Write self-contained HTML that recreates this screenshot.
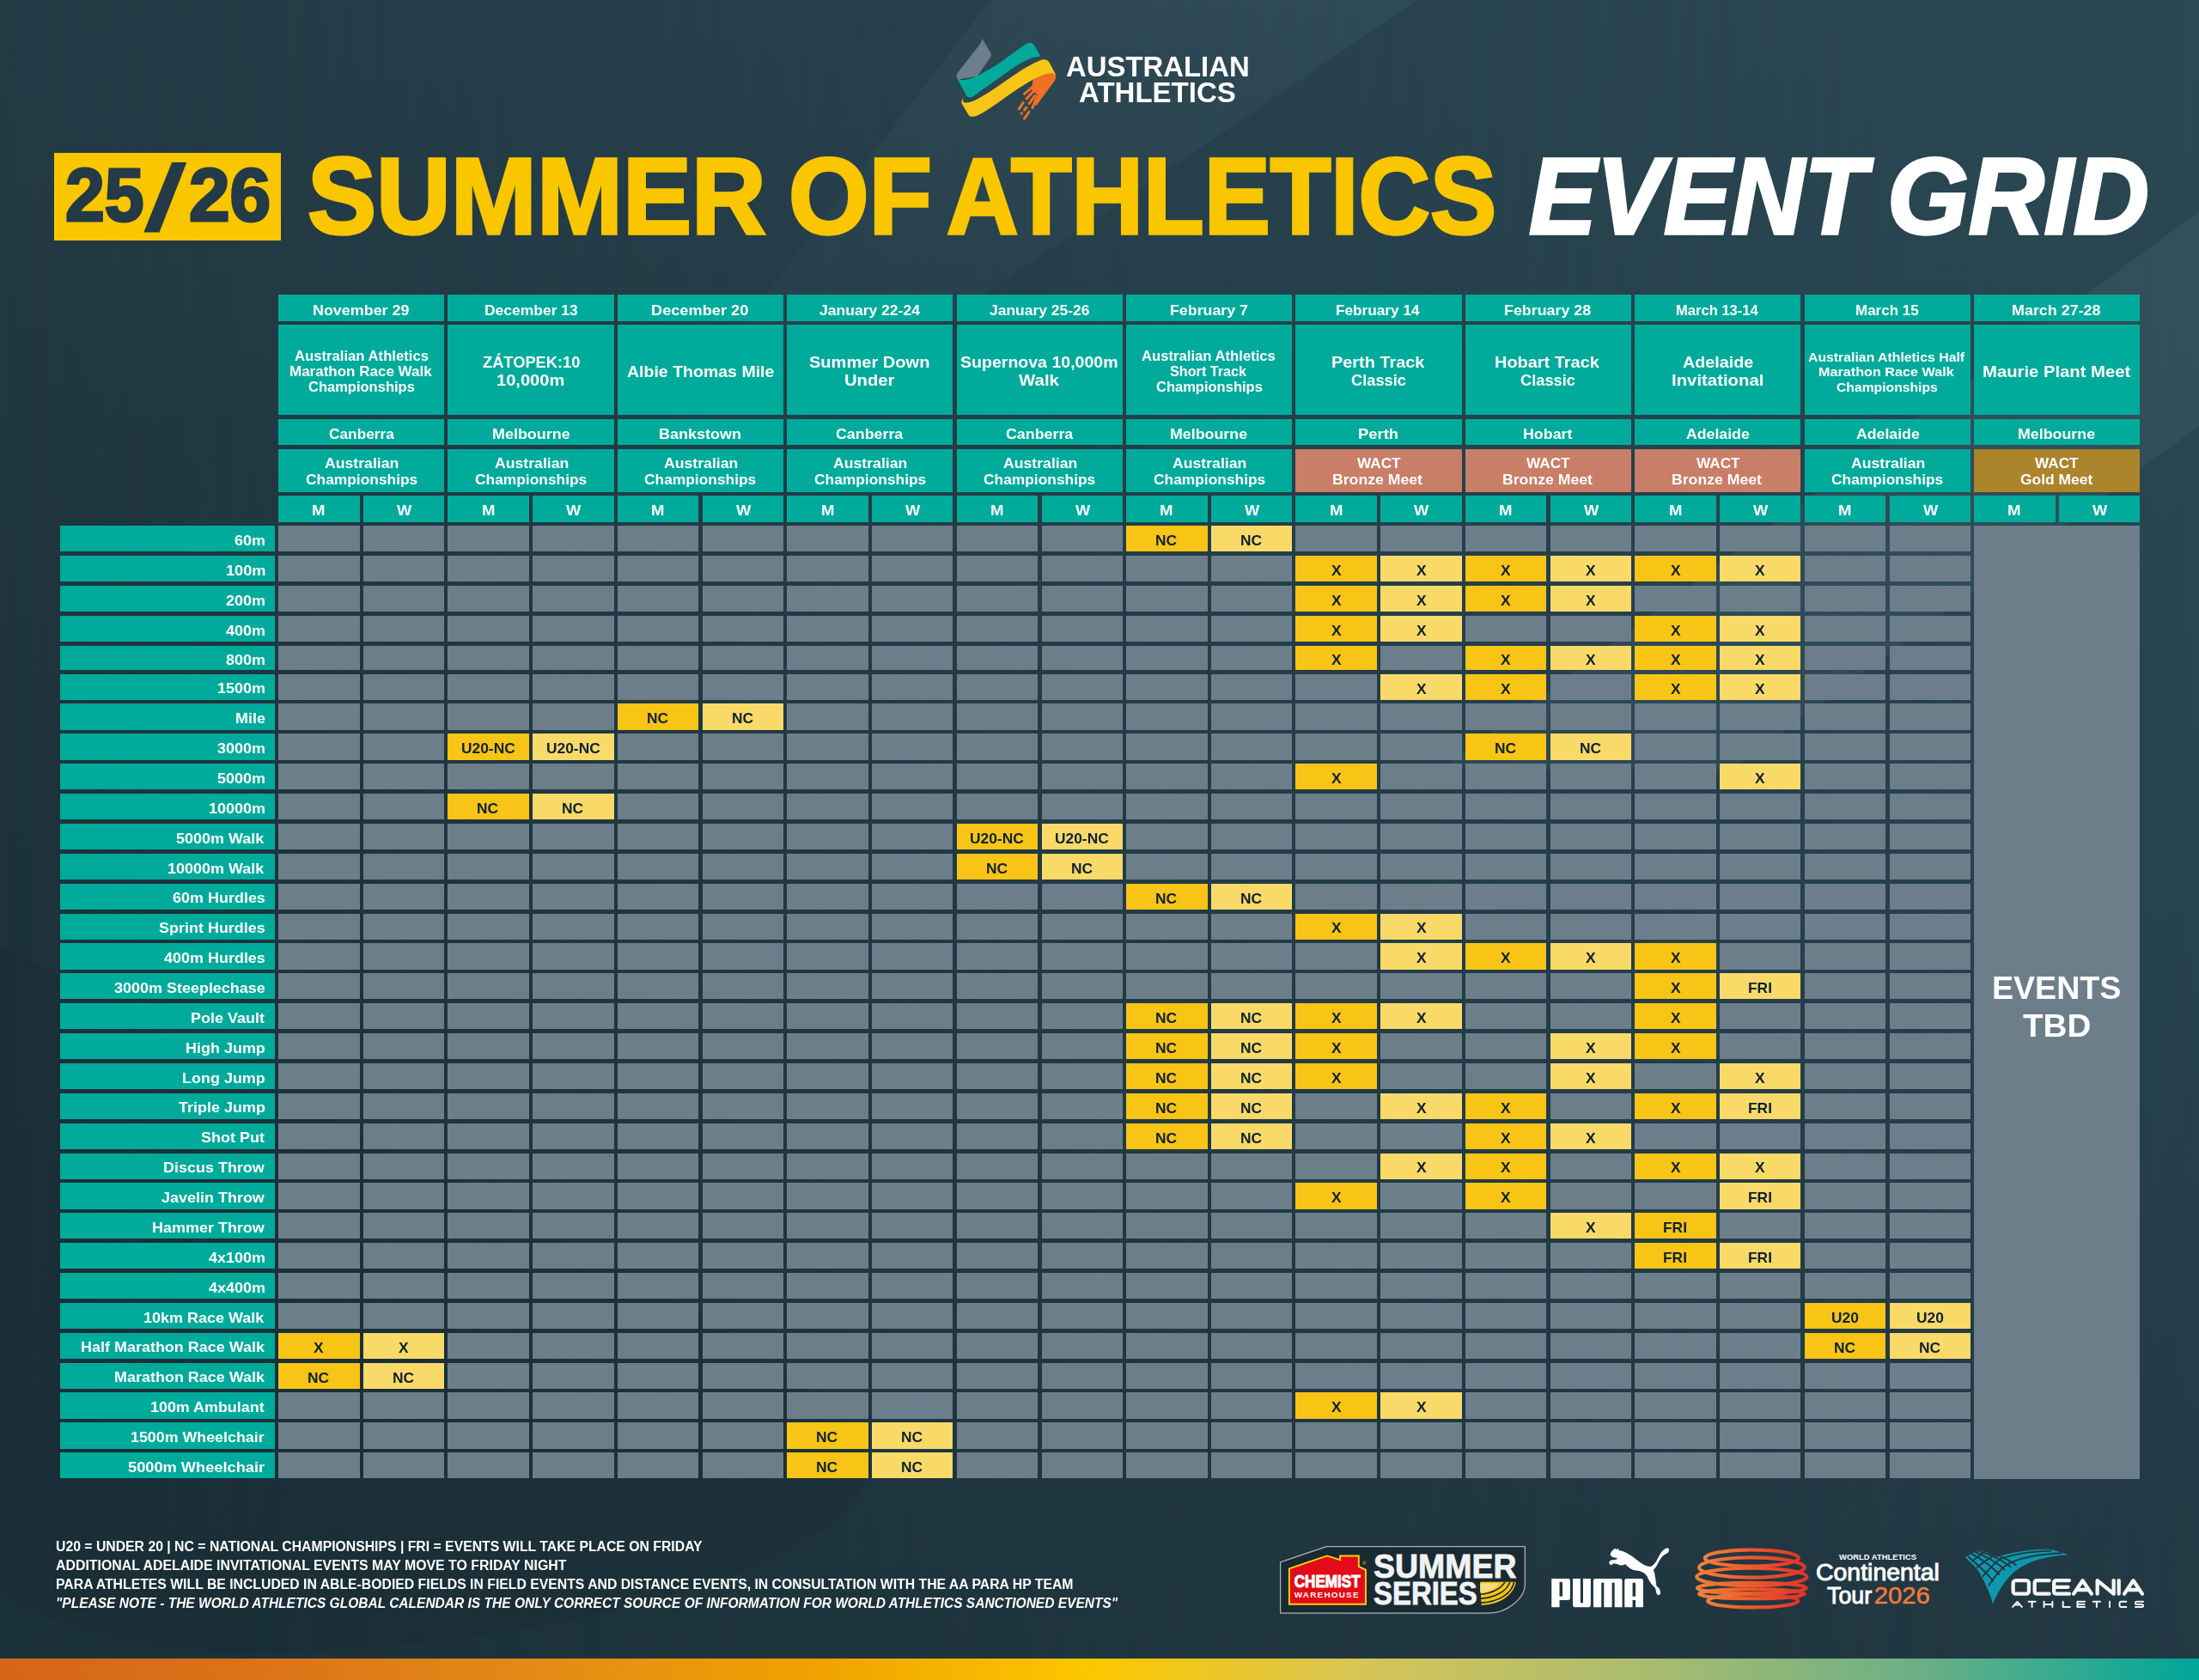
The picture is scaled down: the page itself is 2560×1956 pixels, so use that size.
<!DOCTYPE html>
<html><head><meta charset="utf-8">
<style>
html,body{margin:0;padding:0}
body{width:2560px;height:1956px;overflow:hidden;position:relative;font-family:"Liberation Sans",sans-serif;font-weight:700;color:#fff;background:#22363f}
.bg{position:absolute;left:0;top:0;width:2560px;height:1956px}
.b{position:absolute}
.x{position:absolute;white-space:nowrap;line-height:1;transform-origin:0 0}
.t{position:absolute;white-space:nowrap;line-height:1;transform-origin:0 0}
.foot{position:absolute;left:65px;font-size:16px;line-height:16px;white-space:nowrap;transform-origin:0 0}
</style></head><body>
<svg class="bg" width="2560" height="1956" viewBox="0 0 2560 1956">
 <defs>
  <linearGradient id="gl" x1="0" y1="0" x2="0" y2="1">
   <stop offset="0" stop-color="#243b46"/><stop offset="0.52" stop-color="#1d323a"/><stop offset="1" stop-color="#1b3139"/>
  </linearGradient>
  <linearGradient id="gr" x1="0" y1="0" x2="0" y2="1">
   <stop offset="0" stop-color="#2b4853"/><stop offset="0.52" stop-color="#27444f"/><stop offset="1" stop-color="#223843"/>
  </linearGradient>
  <linearGradient id="hmask" x1="0" y1="0" x2="1" y2="0">
   <stop offset="0" stop-color="#fff" stop-opacity="0"/><stop offset="1" stop-color="#fff" stop-opacity="1"/>
  </linearGradient>
  <mask id="hm"><rect width="2560" height="1956" fill="url(#hmask)"/></mask>
  <linearGradient id="bandfade" x1="0" y1="0" x2="0" y2="1">
   <stop offset="0" stop-color="#9cc6d2" stop-opacity="0.055"/><stop offset="0.6" stop-color="#9cc6d2" stop-opacity="0.02"/><stop offset="1" stop-color="#9cc6d2" stop-opacity="0"/>
  </linearGradient>
  <linearGradient id="bar" x1="0" y1="0" x2="1" y2="0">
   <stop offset="0" stop-color="#d56517"/>
   <stop offset="0.125" stop-color="#dc7418"/>
   <stop offset="0.25" stop-color="#e48c16"/>
   <stop offset="0.375" stop-color="#f0a300"/>
   <stop offset="0.5" stop-color="#fcc800"/>
   <stop offset="0.625" stop-color="#d4c45a"/>
   <stop offset="0.75" stop-color="#a9bc6f"/>
   <stop offset="0.875" stop-color="#6aaf86"/>
   <stop offset="1" stop-color="#00a69a"/>
  </linearGradient>
 </defs>
 <rect width="2560" height="1956" fill="url(#gl)"/>
 <rect width="2560" height="1956" fill="url(#gr)" mask="url(#hm)"/>
 <path d="M1153,0 L1650,0 L614,705 Z" fill="url(#bandfade)"/>
 <path d="M2560,246 L2560,496 L2016,896 L1676,896 Z" fill="#9cc6d2" fill-opacity="0.07"/>
 <path d="M0,1100 C350,1300 950,1550 1010,1700 C1030,1800 700,1925 254,1925 C150,1922 60,1890 0,1854 Z" fill="#000" fill-opacity="0.05"/>
 <rect x="0" y="1931" width="2560" height="25" fill="url(#bar)"/>
</svg>

<!-- logo -->
<svg style="position:absolute;left:1105px;top:40px" width="130" height="105" viewBox="0 0 2080 1680">
 <path d="M615,80 C600,130 590,160 560,200 L170,700 C120,760 130,830 175,840 L520,780 L760,440 C790,400 790,370 770,340 Z" fill="#6d7f8a"/>
 <path d="M150,820 C300,900 500,800 800,620 C1100,430 1300,250 1450,170 C1520,140 1560,160 1590,210 L1700,410 C1550,420 1400,480 1200,620 C900,830 650,1010 450,1150 C390,1190 340,1180 320,1140 Z" fill="#00ab9b"/>
 <path d="M290,1160 C250,1200 240,1260 290,1270 C400,1290 550,1200 800,1040 C1100,840 1400,600 1700,480 C1780,450 1840,470 1870,530 L1990,760 C1800,720 1600,800 1300,1000 C1000,1200 750,1400 550,1500 C450,1550 390,1540 360,1500 L235,1290 C220,1250 250,1190 290,1160 Z" fill="#f8c416"/>
 <path d="M1560,850 C1700,760 1860,700 1950,730 C2000,760 1995,820 1960,870 L1620,1330 L1570,1250 L1650,1130 L1530,1030 Z" fill="#ef7022"/>
 <g stroke="#ef7022" stroke-width="48" stroke-linecap="round" fill="none">
  <path d="M1640,1160 L1550,1370"/><path d="M1600,1140 L1490,1290"/><path d="M1380,1270 L1300,1390"/>
  <path d="M1440,1360 L1400,1410"/><path d="M1490,1440 L1400,1570"/><path d="M1350,1470 L1345,1475"/>
  <path d="M1560,1070 L1440,1200"/><path d="M1540,990 L1400,1110"/>
 </g>
</svg>
<div class="t" style="left:1240.7px;top:60px;font-size:34px;transform:scaleX(0.967)">AUSTRALIAN</div>
<div class="t" style="left:1256.2px;top:90.2px;font-size:34px;transform:scaleX(0.971)">ATHLETICS</div>

<!-- title -->
<div style="position:absolute;left:63px;top:178px;width:264px;height:102px;background:#fac600"></div>
<div class="t" id="w25" style="left:76.19px;top:184.2px;font-size:86.3px;color:#243a46;-webkit-text-stroke:3px #243a46;transform:scaleX(0.9543)">25</div>
<div class="t" id="w26" style="left:219.80px;top:184.2px;font-size:86.3px;color:#243a46;-webkit-text-stroke:3px #243a46;transform:scaleX(0.9917)">26</div>
<svg style="position:absolute;left:0;top:0" width="330" height="290"><path d="M200.1,189.1 L217.3,189.1 L185.5,270.6 L167.3,270.6 Z" fill="#243a46"/></svg>
<div class="t" id="wS" style="left:357.71px;top:164.9px;font-size:127px;color:#fac600;-webkit-text-stroke:3.5px #fac600;transform:scaleX(0.9457)">SUMMER</div>
<div class="t" id="wO" style="left:918.41px;top:164.9px;font-size:127px;color:#fac600;-webkit-text-stroke:3.5px #fac600;transform:scaleX(0.9471)">OF</div>
<div class="t" id="wA" style="left:1101.80px;top:164.9px;font-size:127px;color:#fac600;-webkit-text-stroke:3.5px #fac600;transform:scaleX(0.9103)">ATHLETICS</div>
<div class="t" id="wE" style="left:1780.20px;top:164.9px;font-size:127px;font-style:italic;-webkit-text-stroke:3.5px #fff;transform:scaleX(0.9265)">EVENT</div>
<div class="t" id="wG" style="left:2197.02px;top:164.9px;font-size:127px;font-style:italic;-webkit-text-stroke:3.5px #fff;transform:scaleX(0.9599)">GRID</div>

<div class="b" style="left:324.00px;top:343.30px;width:193.20px;height:30.90px;background:#00ab9b"></div>
<div class="b" style="left:324.00px;top:378.20px;width:193.20px;height:104.40px;background:#00ab9b"></div>
<div class="b" style="left:324.00px;top:488.00px;width:193.20px;height:29.50px;background:#00ab9b"></div>
<div class="b" style="left:324.00px;top:523.00px;width:193.20px;height:49.50px;background:#00ab9b"></div>
<div class="b" style="left:324.00px;top:577.00px;width:94.50px;height:30.50px;background:#00ab9b"></div>
<div class="b" style="left:423.00px;top:577.00px;width:94.20px;height:30.50px;background:#00ab9b"></div>
<div class="b" style="left:521.40px;top:343.30px;width:193.20px;height:30.90px;background:#00ab9b"></div>
<div class="b" style="left:521.40px;top:378.20px;width:193.20px;height:104.40px;background:#00ab9b"></div>
<div class="b" style="left:521.40px;top:488.00px;width:193.20px;height:29.50px;background:#00ab9b"></div>
<div class="b" style="left:521.40px;top:523.00px;width:193.20px;height:49.50px;background:#00ab9b"></div>
<div class="b" style="left:521.40px;top:577.00px;width:94.50px;height:30.50px;background:#00ab9b"></div>
<div class="b" style="left:620.40px;top:577.00px;width:94.20px;height:30.50px;background:#00ab9b"></div>
<div class="b" style="left:718.80px;top:343.30px;width:193.20px;height:30.90px;background:#00ab9b"></div>
<div class="b" style="left:718.80px;top:378.20px;width:193.20px;height:104.40px;background:#00ab9b"></div>
<div class="b" style="left:718.80px;top:488.00px;width:193.20px;height:29.50px;background:#00ab9b"></div>
<div class="b" style="left:718.80px;top:523.00px;width:193.20px;height:49.50px;background:#00ab9b"></div>
<div class="b" style="left:718.80px;top:577.00px;width:94.50px;height:30.50px;background:#00ab9b"></div>
<div class="b" style="left:817.80px;top:577.00px;width:94.20px;height:30.50px;background:#00ab9b"></div>
<div class="b" style="left:916.20px;top:343.30px;width:193.20px;height:30.90px;background:#00ab9b"></div>
<div class="b" style="left:916.20px;top:378.20px;width:193.20px;height:104.40px;background:#00ab9b"></div>
<div class="b" style="left:916.20px;top:488.00px;width:193.20px;height:29.50px;background:#00ab9b"></div>
<div class="b" style="left:916.20px;top:523.00px;width:193.20px;height:49.50px;background:#00ab9b"></div>
<div class="b" style="left:916.20px;top:577.00px;width:94.50px;height:30.50px;background:#00ab9b"></div>
<div class="b" style="left:1015.20px;top:577.00px;width:94.20px;height:30.50px;background:#00ab9b"></div>
<div class="b" style="left:1113.60px;top:343.30px;width:193.20px;height:30.90px;background:#00ab9b"></div>
<div class="b" style="left:1113.60px;top:378.20px;width:193.20px;height:104.40px;background:#00ab9b"></div>
<div class="b" style="left:1113.60px;top:488.00px;width:193.20px;height:29.50px;background:#00ab9b"></div>
<div class="b" style="left:1113.60px;top:523.00px;width:193.20px;height:49.50px;background:#00ab9b"></div>
<div class="b" style="left:1113.60px;top:577.00px;width:94.50px;height:30.50px;background:#00ab9b"></div>
<div class="b" style="left:1212.60px;top:577.00px;width:94.20px;height:30.50px;background:#00ab9b"></div>
<div class="b" style="left:1311.00px;top:343.30px;width:193.20px;height:30.90px;background:#00ab9b"></div>
<div class="b" style="left:1311.00px;top:378.20px;width:193.20px;height:104.40px;background:#00ab9b"></div>
<div class="b" style="left:1311.00px;top:488.00px;width:193.20px;height:29.50px;background:#00ab9b"></div>
<div class="b" style="left:1311.00px;top:523.00px;width:193.20px;height:49.50px;background:#00ab9b"></div>
<div class="b" style="left:1311.00px;top:577.00px;width:94.50px;height:30.50px;background:#00ab9b"></div>
<div class="b" style="left:1410.00px;top:577.00px;width:94.20px;height:30.50px;background:#00ab9b"></div>
<div class="b" style="left:1508.40px;top:343.30px;width:193.20px;height:30.90px;background:#00ab9b"></div>
<div class="b" style="left:1508.40px;top:378.20px;width:193.20px;height:104.40px;background:#00ab9b"></div>
<div class="b" style="left:1508.40px;top:488.00px;width:193.20px;height:29.50px;background:#00ab9b"></div>
<div class="b" style="left:1508.40px;top:523.00px;width:193.20px;height:49.50px;background:#c97e68"></div>
<div class="b" style="left:1508.40px;top:577.00px;width:94.50px;height:30.50px;background:#00ab9b"></div>
<div class="b" style="left:1607.40px;top:577.00px;width:94.20px;height:30.50px;background:#00ab9b"></div>
<div class="b" style="left:1705.80px;top:343.30px;width:193.20px;height:30.90px;background:#00ab9b"></div>
<div class="b" style="left:1705.80px;top:378.20px;width:193.20px;height:104.40px;background:#00ab9b"></div>
<div class="b" style="left:1705.80px;top:488.00px;width:193.20px;height:29.50px;background:#00ab9b"></div>
<div class="b" style="left:1705.80px;top:523.00px;width:193.20px;height:49.50px;background:#c97e68"></div>
<div class="b" style="left:1705.80px;top:577.00px;width:94.50px;height:30.50px;background:#00ab9b"></div>
<div class="b" style="left:1804.80px;top:577.00px;width:94.20px;height:30.50px;background:#00ab9b"></div>
<div class="b" style="left:1903.20px;top:343.30px;width:193.20px;height:30.90px;background:#00ab9b"></div>
<div class="b" style="left:1903.20px;top:378.20px;width:193.20px;height:104.40px;background:#00ab9b"></div>
<div class="b" style="left:1903.20px;top:488.00px;width:193.20px;height:29.50px;background:#00ab9b"></div>
<div class="b" style="left:1903.20px;top:523.00px;width:193.20px;height:49.50px;background:#c97e68"></div>
<div class="b" style="left:1903.20px;top:577.00px;width:94.50px;height:30.50px;background:#00ab9b"></div>
<div class="b" style="left:2002.20px;top:577.00px;width:94.20px;height:30.50px;background:#00ab9b"></div>
<div class="b" style="left:2100.60px;top:343.30px;width:193.20px;height:30.90px;background:#00ab9b"></div>
<div class="b" style="left:2100.60px;top:378.20px;width:193.20px;height:104.40px;background:#00ab9b"></div>
<div class="b" style="left:2100.60px;top:488.00px;width:193.20px;height:29.50px;background:#00ab9b"></div>
<div class="b" style="left:2100.60px;top:523.00px;width:193.20px;height:49.50px;background:#00ab9b"></div>
<div class="b" style="left:2100.60px;top:577.00px;width:94.50px;height:30.50px;background:#00ab9b"></div>
<div class="b" style="left:2199.60px;top:577.00px;width:94.20px;height:30.50px;background:#00ab9b"></div>
<div class="b" style="left:2298.00px;top:343.30px;width:193.20px;height:30.90px;background:#00ab9b"></div>
<div class="b" style="left:2298.00px;top:378.20px;width:193.20px;height:104.40px;background:#00ab9b"></div>
<div class="b" style="left:2298.00px;top:488.00px;width:193.20px;height:29.50px;background:#00ab9b"></div>
<div class="b" style="left:2298.00px;top:523.00px;width:193.20px;height:49.50px;background:#ab842c"></div>
<div class="b" style="left:2298.00px;top:577.00px;width:94.50px;height:30.50px;background:#00ab9b"></div>
<div class="b" style="left:2397.00px;top:577.00px;width:94.20px;height:30.50px;background:#00ab9b"></div>
<div class="b" style="left:69.80px;top:612.00px;width:250.30px;height:30.20px;background:#00ab9b"></div>
<div class="b" style="left:324.00px;top:612.00px;width:94.50px;height:30.20px;background:#6d7e8b"></div>
<div class="b" style="left:423.00px;top:612.00px;width:94.20px;height:30.20px;background:#6d7e8b"></div>
<div class="b" style="left:521.40px;top:612.00px;width:94.50px;height:30.20px;background:#6d7e8b"></div>
<div class="b" style="left:620.40px;top:612.00px;width:94.20px;height:30.20px;background:#6d7e8b"></div>
<div class="b" style="left:718.80px;top:612.00px;width:94.50px;height:30.20px;background:#6d7e8b"></div>
<div class="b" style="left:817.80px;top:612.00px;width:94.20px;height:30.20px;background:#6d7e8b"></div>
<div class="b" style="left:916.20px;top:612.00px;width:94.50px;height:30.20px;background:#6d7e8b"></div>
<div class="b" style="left:1015.20px;top:612.00px;width:94.20px;height:30.20px;background:#6d7e8b"></div>
<div class="b" style="left:1113.60px;top:612.00px;width:94.50px;height:30.20px;background:#6d7e8b"></div>
<div class="b" style="left:1212.60px;top:612.00px;width:94.20px;height:30.20px;background:#6d7e8b"></div>
<div class="b" style="left:1311.00px;top:612.00px;width:94.50px;height:30.20px;background:#f8c416"></div>
<div class="b" style="left:1410.00px;top:612.00px;width:94.20px;height:30.20px;background:#f9da68"></div>
<div class="b" style="left:1508.40px;top:612.00px;width:94.50px;height:30.20px;background:#6d7e8b"></div>
<div class="b" style="left:1607.40px;top:612.00px;width:94.20px;height:30.20px;background:#6d7e8b"></div>
<div class="b" style="left:1705.80px;top:612.00px;width:94.50px;height:30.20px;background:#6d7e8b"></div>
<div class="b" style="left:1804.80px;top:612.00px;width:94.20px;height:30.20px;background:#6d7e8b"></div>
<div class="b" style="left:1903.20px;top:612.00px;width:94.50px;height:30.20px;background:#6d7e8b"></div>
<div class="b" style="left:2002.20px;top:612.00px;width:94.20px;height:30.20px;background:#6d7e8b"></div>
<div class="b" style="left:2100.60px;top:612.00px;width:94.50px;height:30.20px;background:#6d7e8b"></div>
<div class="b" style="left:2199.60px;top:612.00px;width:94.20px;height:30.20px;background:#6d7e8b"></div>
<div class="b" style="left:69.80px;top:647.00px;width:250.30px;height:30.20px;background:#00ab9b"></div>
<div class="b" style="left:324.00px;top:647.00px;width:94.50px;height:30.20px;background:#6d7e8b"></div>
<div class="b" style="left:423.00px;top:647.00px;width:94.20px;height:30.20px;background:#6d7e8b"></div>
<div class="b" style="left:521.40px;top:647.00px;width:94.50px;height:30.20px;background:#6d7e8b"></div>
<div class="b" style="left:620.40px;top:647.00px;width:94.20px;height:30.20px;background:#6d7e8b"></div>
<div class="b" style="left:718.80px;top:647.00px;width:94.50px;height:30.20px;background:#6d7e8b"></div>
<div class="b" style="left:817.80px;top:647.00px;width:94.20px;height:30.20px;background:#6d7e8b"></div>
<div class="b" style="left:916.20px;top:647.00px;width:94.50px;height:30.20px;background:#6d7e8b"></div>
<div class="b" style="left:1015.20px;top:647.00px;width:94.20px;height:30.20px;background:#6d7e8b"></div>
<div class="b" style="left:1113.60px;top:647.00px;width:94.50px;height:30.20px;background:#6d7e8b"></div>
<div class="b" style="left:1212.60px;top:647.00px;width:94.20px;height:30.20px;background:#6d7e8b"></div>
<div class="b" style="left:1311.00px;top:647.00px;width:94.50px;height:30.20px;background:#6d7e8b"></div>
<div class="b" style="left:1410.00px;top:647.00px;width:94.20px;height:30.20px;background:#6d7e8b"></div>
<div class="b" style="left:1508.40px;top:647.00px;width:94.50px;height:30.20px;background:#f8c416"></div>
<div class="b" style="left:1607.40px;top:647.00px;width:94.20px;height:30.20px;background:#f9da68"></div>
<div class="b" style="left:1705.80px;top:647.00px;width:94.50px;height:30.20px;background:#f8c416"></div>
<div class="b" style="left:1804.80px;top:647.00px;width:94.20px;height:30.20px;background:#f9da68"></div>
<div class="b" style="left:1903.20px;top:647.00px;width:94.50px;height:30.20px;background:#f8c416"></div>
<div class="b" style="left:2002.20px;top:647.00px;width:94.20px;height:30.20px;background:#f9da68"></div>
<div class="b" style="left:2100.60px;top:647.00px;width:94.50px;height:30.20px;background:#6d7e8b"></div>
<div class="b" style="left:2199.60px;top:647.00px;width:94.20px;height:30.20px;background:#6d7e8b"></div>
<div class="b" style="left:69.80px;top:682.00px;width:250.30px;height:30.20px;background:#00ab9b"></div>
<div class="b" style="left:324.00px;top:682.00px;width:94.50px;height:30.20px;background:#6d7e8b"></div>
<div class="b" style="left:423.00px;top:682.00px;width:94.20px;height:30.20px;background:#6d7e8b"></div>
<div class="b" style="left:521.40px;top:682.00px;width:94.50px;height:30.20px;background:#6d7e8b"></div>
<div class="b" style="left:620.40px;top:682.00px;width:94.20px;height:30.20px;background:#6d7e8b"></div>
<div class="b" style="left:718.80px;top:682.00px;width:94.50px;height:30.20px;background:#6d7e8b"></div>
<div class="b" style="left:817.80px;top:682.00px;width:94.20px;height:30.20px;background:#6d7e8b"></div>
<div class="b" style="left:916.20px;top:682.00px;width:94.50px;height:30.20px;background:#6d7e8b"></div>
<div class="b" style="left:1015.20px;top:682.00px;width:94.20px;height:30.20px;background:#6d7e8b"></div>
<div class="b" style="left:1113.60px;top:682.00px;width:94.50px;height:30.20px;background:#6d7e8b"></div>
<div class="b" style="left:1212.60px;top:682.00px;width:94.20px;height:30.20px;background:#6d7e8b"></div>
<div class="b" style="left:1311.00px;top:682.00px;width:94.50px;height:30.20px;background:#6d7e8b"></div>
<div class="b" style="left:1410.00px;top:682.00px;width:94.20px;height:30.20px;background:#6d7e8b"></div>
<div class="b" style="left:1508.40px;top:682.00px;width:94.50px;height:30.20px;background:#f8c416"></div>
<div class="b" style="left:1607.40px;top:682.00px;width:94.20px;height:30.20px;background:#f9da68"></div>
<div class="b" style="left:1705.80px;top:682.00px;width:94.50px;height:30.20px;background:#f8c416"></div>
<div class="b" style="left:1804.80px;top:682.00px;width:94.20px;height:30.20px;background:#f9da68"></div>
<div class="b" style="left:1903.20px;top:682.00px;width:94.50px;height:30.20px;background:#6d7e8b"></div>
<div class="b" style="left:2002.20px;top:682.00px;width:94.20px;height:30.20px;background:#6d7e8b"></div>
<div class="b" style="left:2100.60px;top:682.00px;width:94.50px;height:30.20px;background:#6d7e8b"></div>
<div class="b" style="left:2199.60px;top:682.00px;width:94.20px;height:30.20px;background:#6d7e8b"></div>
<div class="b" style="left:69.80px;top:717.00px;width:250.30px;height:30.20px;background:#00ab9b"></div>
<div class="b" style="left:324.00px;top:717.00px;width:94.50px;height:30.20px;background:#6d7e8b"></div>
<div class="b" style="left:423.00px;top:717.00px;width:94.20px;height:30.20px;background:#6d7e8b"></div>
<div class="b" style="left:521.40px;top:717.00px;width:94.50px;height:30.20px;background:#6d7e8b"></div>
<div class="b" style="left:620.40px;top:717.00px;width:94.20px;height:30.20px;background:#6d7e8b"></div>
<div class="b" style="left:718.80px;top:717.00px;width:94.50px;height:30.20px;background:#6d7e8b"></div>
<div class="b" style="left:817.80px;top:717.00px;width:94.20px;height:30.20px;background:#6d7e8b"></div>
<div class="b" style="left:916.20px;top:717.00px;width:94.50px;height:30.20px;background:#6d7e8b"></div>
<div class="b" style="left:1015.20px;top:717.00px;width:94.20px;height:30.20px;background:#6d7e8b"></div>
<div class="b" style="left:1113.60px;top:717.00px;width:94.50px;height:30.20px;background:#6d7e8b"></div>
<div class="b" style="left:1212.60px;top:717.00px;width:94.20px;height:30.20px;background:#6d7e8b"></div>
<div class="b" style="left:1311.00px;top:717.00px;width:94.50px;height:30.20px;background:#6d7e8b"></div>
<div class="b" style="left:1410.00px;top:717.00px;width:94.20px;height:30.20px;background:#6d7e8b"></div>
<div class="b" style="left:1508.40px;top:717.00px;width:94.50px;height:30.20px;background:#f8c416"></div>
<div class="b" style="left:1607.40px;top:717.00px;width:94.20px;height:30.20px;background:#f9da68"></div>
<div class="b" style="left:1705.80px;top:717.00px;width:94.50px;height:30.20px;background:#6d7e8b"></div>
<div class="b" style="left:1804.80px;top:717.00px;width:94.20px;height:30.20px;background:#6d7e8b"></div>
<div class="b" style="left:1903.20px;top:717.00px;width:94.50px;height:30.20px;background:#f8c416"></div>
<div class="b" style="left:2002.20px;top:717.00px;width:94.20px;height:30.20px;background:#f9da68"></div>
<div class="b" style="left:2100.60px;top:717.00px;width:94.50px;height:30.20px;background:#6d7e8b"></div>
<div class="b" style="left:2199.60px;top:717.00px;width:94.20px;height:30.20px;background:#6d7e8b"></div>
<div class="b" style="left:69.80px;top:751.80px;width:250.30px;height:28.60px;background:#00ab9b"></div>
<div class="b" style="left:324.00px;top:751.80px;width:94.50px;height:28.60px;background:#6d7e8b"></div>
<div class="b" style="left:423.00px;top:751.80px;width:94.20px;height:28.60px;background:#6d7e8b"></div>
<div class="b" style="left:521.40px;top:751.80px;width:94.50px;height:28.60px;background:#6d7e8b"></div>
<div class="b" style="left:620.40px;top:751.80px;width:94.20px;height:28.60px;background:#6d7e8b"></div>
<div class="b" style="left:718.80px;top:751.80px;width:94.50px;height:28.60px;background:#6d7e8b"></div>
<div class="b" style="left:817.80px;top:751.80px;width:94.20px;height:28.60px;background:#6d7e8b"></div>
<div class="b" style="left:916.20px;top:751.80px;width:94.50px;height:28.60px;background:#6d7e8b"></div>
<div class="b" style="left:1015.20px;top:751.80px;width:94.20px;height:28.60px;background:#6d7e8b"></div>
<div class="b" style="left:1113.60px;top:751.80px;width:94.50px;height:28.60px;background:#6d7e8b"></div>
<div class="b" style="left:1212.60px;top:751.80px;width:94.20px;height:28.60px;background:#6d7e8b"></div>
<div class="b" style="left:1311.00px;top:751.80px;width:94.50px;height:28.60px;background:#6d7e8b"></div>
<div class="b" style="left:1410.00px;top:751.80px;width:94.20px;height:28.60px;background:#6d7e8b"></div>
<div class="b" style="left:1508.40px;top:751.80px;width:94.50px;height:28.60px;background:#f8c416"></div>
<div class="b" style="left:1607.40px;top:751.80px;width:94.20px;height:28.60px;background:#6d7e8b"></div>
<div class="b" style="left:1705.80px;top:751.80px;width:94.50px;height:28.60px;background:#f8c416"></div>
<div class="b" style="left:1804.80px;top:751.80px;width:94.20px;height:28.60px;background:#f9da68"></div>
<div class="b" style="left:1903.20px;top:751.80px;width:94.50px;height:28.60px;background:#f8c416"></div>
<div class="b" style="left:2002.20px;top:751.80px;width:94.20px;height:28.60px;background:#f9da68"></div>
<div class="b" style="left:2100.60px;top:751.80px;width:94.50px;height:28.60px;background:#6d7e8b"></div>
<div class="b" style="left:2199.60px;top:751.80px;width:94.20px;height:28.60px;background:#6d7e8b"></div>
<div class="b" style="left:69.80px;top:784.60px;width:250.30px;height:30.20px;background:#00ab9b"></div>
<div class="b" style="left:324.00px;top:784.60px;width:94.50px;height:30.20px;background:#6d7e8b"></div>
<div class="b" style="left:423.00px;top:784.60px;width:94.20px;height:30.20px;background:#6d7e8b"></div>
<div class="b" style="left:521.40px;top:784.60px;width:94.50px;height:30.20px;background:#6d7e8b"></div>
<div class="b" style="left:620.40px;top:784.60px;width:94.20px;height:30.20px;background:#6d7e8b"></div>
<div class="b" style="left:718.80px;top:784.60px;width:94.50px;height:30.20px;background:#6d7e8b"></div>
<div class="b" style="left:817.80px;top:784.60px;width:94.20px;height:30.20px;background:#6d7e8b"></div>
<div class="b" style="left:916.20px;top:784.60px;width:94.50px;height:30.20px;background:#6d7e8b"></div>
<div class="b" style="left:1015.20px;top:784.60px;width:94.20px;height:30.20px;background:#6d7e8b"></div>
<div class="b" style="left:1113.60px;top:784.60px;width:94.50px;height:30.20px;background:#6d7e8b"></div>
<div class="b" style="left:1212.60px;top:784.60px;width:94.20px;height:30.20px;background:#6d7e8b"></div>
<div class="b" style="left:1311.00px;top:784.60px;width:94.50px;height:30.20px;background:#6d7e8b"></div>
<div class="b" style="left:1410.00px;top:784.60px;width:94.20px;height:30.20px;background:#6d7e8b"></div>
<div class="b" style="left:1508.40px;top:784.60px;width:94.50px;height:30.20px;background:#6d7e8b"></div>
<div class="b" style="left:1607.40px;top:784.60px;width:94.20px;height:30.20px;background:#f9da68"></div>
<div class="b" style="left:1705.80px;top:784.60px;width:94.50px;height:30.20px;background:#f8c416"></div>
<div class="b" style="left:1804.80px;top:784.60px;width:94.20px;height:30.20px;background:#6d7e8b"></div>
<div class="b" style="left:1903.20px;top:784.60px;width:94.50px;height:30.20px;background:#f8c416"></div>
<div class="b" style="left:2002.20px;top:784.60px;width:94.20px;height:30.20px;background:#f9da68"></div>
<div class="b" style="left:2100.60px;top:784.60px;width:94.50px;height:30.20px;background:#6d7e8b"></div>
<div class="b" style="left:2199.60px;top:784.60px;width:94.20px;height:30.20px;background:#6d7e8b"></div>
<div class="b" style="left:69.80px;top:819.47px;width:250.30px;height:30.20px;background:#00ab9b"></div>
<div class="b" style="left:324.00px;top:819.47px;width:94.50px;height:30.20px;background:#6d7e8b"></div>
<div class="b" style="left:423.00px;top:819.47px;width:94.20px;height:30.20px;background:#6d7e8b"></div>
<div class="b" style="left:521.40px;top:819.47px;width:94.50px;height:30.20px;background:#6d7e8b"></div>
<div class="b" style="left:620.40px;top:819.47px;width:94.20px;height:30.20px;background:#6d7e8b"></div>
<div class="b" style="left:718.80px;top:819.47px;width:94.50px;height:30.20px;background:#f8c416"></div>
<div class="b" style="left:817.80px;top:819.47px;width:94.20px;height:30.20px;background:#f9da68"></div>
<div class="b" style="left:916.20px;top:819.47px;width:94.50px;height:30.20px;background:#6d7e8b"></div>
<div class="b" style="left:1015.20px;top:819.47px;width:94.20px;height:30.20px;background:#6d7e8b"></div>
<div class="b" style="left:1113.60px;top:819.47px;width:94.50px;height:30.20px;background:#6d7e8b"></div>
<div class="b" style="left:1212.60px;top:819.47px;width:94.20px;height:30.20px;background:#6d7e8b"></div>
<div class="b" style="left:1311.00px;top:819.47px;width:94.50px;height:30.20px;background:#6d7e8b"></div>
<div class="b" style="left:1410.00px;top:819.47px;width:94.20px;height:30.20px;background:#6d7e8b"></div>
<div class="b" style="left:1508.40px;top:819.47px;width:94.50px;height:30.20px;background:#6d7e8b"></div>
<div class="b" style="left:1607.40px;top:819.47px;width:94.20px;height:30.20px;background:#6d7e8b"></div>
<div class="b" style="left:1705.80px;top:819.47px;width:94.50px;height:30.20px;background:#6d7e8b"></div>
<div class="b" style="left:1804.80px;top:819.47px;width:94.20px;height:30.20px;background:#6d7e8b"></div>
<div class="b" style="left:1903.20px;top:819.47px;width:94.50px;height:30.20px;background:#6d7e8b"></div>
<div class="b" style="left:2002.20px;top:819.47px;width:94.20px;height:30.20px;background:#6d7e8b"></div>
<div class="b" style="left:2100.60px;top:819.47px;width:94.50px;height:30.20px;background:#6d7e8b"></div>
<div class="b" style="left:2199.60px;top:819.47px;width:94.20px;height:30.20px;background:#6d7e8b"></div>
<div class="b" style="left:69.80px;top:854.34px;width:250.30px;height:30.20px;background:#00ab9b"></div>
<div class="b" style="left:324.00px;top:854.34px;width:94.50px;height:30.20px;background:#6d7e8b"></div>
<div class="b" style="left:423.00px;top:854.34px;width:94.20px;height:30.20px;background:#6d7e8b"></div>
<div class="b" style="left:521.40px;top:854.34px;width:94.50px;height:30.20px;background:#f8c416"></div>
<div class="b" style="left:620.40px;top:854.34px;width:94.20px;height:30.20px;background:#f9da68"></div>
<div class="b" style="left:718.80px;top:854.34px;width:94.50px;height:30.20px;background:#6d7e8b"></div>
<div class="b" style="left:817.80px;top:854.34px;width:94.20px;height:30.20px;background:#6d7e8b"></div>
<div class="b" style="left:916.20px;top:854.34px;width:94.50px;height:30.20px;background:#6d7e8b"></div>
<div class="b" style="left:1015.20px;top:854.34px;width:94.20px;height:30.20px;background:#6d7e8b"></div>
<div class="b" style="left:1113.60px;top:854.34px;width:94.50px;height:30.20px;background:#6d7e8b"></div>
<div class="b" style="left:1212.60px;top:854.34px;width:94.20px;height:30.20px;background:#6d7e8b"></div>
<div class="b" style="left:1311.00px;top:854.34px;width:94.50px;height:30.20px;background:#6d7e8b"></div>
<div class="b" style="left:1410.00px;top:854.34px;width:94.20px;height:30.20px;background:#6d7e8b"></div>
<div class="b" style="left:1508.40px;top:854.34px;width:94.50px;height:30.20px;background:#6d7e8b"></div>
<div class="b" style="left:1607.40px;top:854.34px;width:94.20px;height:30.20px;background:#6d7e8b"></div>
<div class="b" style="left:1705.80px;top:854.34px;width:94.50px;height:30.20px;background:#f8c416"></div>
<div class="b" style="left:1804.80px;top:854.34px;width:94.20px;height:30.20px;background:#f9da68"></div>
<div class="b" style="left:1903.20px;top:854.34px;width:94.50px;height:30.20px;background:#6d7e8b"></div>
<div class="b" style="left:2002.20px;top:854.34px;width:94.20px;height:30.20px;background:#6d7e8b"></div>
<div class="b" style="left:2100.60px;top:854.34px;width:94.50px;height:30.20px;background:#6d7e8b"></div>
<div class="b" style="left:2199.60px;top:854.34px;width:94.20px;height:30.20px;background:#6d7e8b"></div>
<div class="b" style="left:69.80px;top:889.21px;width:250.30px;height:30.20px;background:#00ab9b"></div>
<div class="b" style="left:324.00px;top:889.21px;width:94.50px;height:30.20px;background:#6d7e8b"></div>
<div class="b" style="left:423.00px;top:889.21px;width:94.20px;height:30.20px;background:#6d7e8b"></div>
<div class="b" style="left:521.40px;top:889.21px;width:94.50px;height:30.20px;background:#6d7e8b"></div>
<div class="b" style="left:620.40px;top:889.21px;width:94.20px;height:30.20px;background:#6d7e8b"></div>
<div class="b" style="left:718.80px;top:889.21px;width:94.50px;height:30.20px;background:#6d7e8b"></div>
<div class="b" style="left:817.80px;top:889.21px;width:94.20px;height:30.20px;background:#6d7e8b"></div>
<div class="b" style="left:916.20px;top:889.21px;width:94.50px;height:30.20px;background:#6d7e8b"></div>
<div class="b" style="left:1015.20px;top:889.21px;width:94.20px;height:30.20px;background:#6d7e8b"></div>
<div class="b" style="left:1113.60px;top:889.21px;width:94.50px;height:30.20px;background:#6d7e8b"></div>
<div class="b" style="left:1212.60px;top:889.21px;width:94.20px;height:30.20px;background:#6d7e8b"></div>
<div class="b" style="left:1311.00px;top:889.21px;width:94.50px;height:30.20px;background:#6d7e8b"></div>
<div class="b" style="left:1410.00px;top:889.21px;width:94.20px;height:30.20px;background:#6d7e8b"></div>
<div class="b" style="left:1508.40px;top:889.21px;width:94.50px;height:30.20px;background:#f8c416"></div>
<div class="b" style="left:1607.40px;top:889.21px;width:94.20px;height:30.20px;background:#6d7e8b"></div>
<div class="b" style="left:1705.80px;top:889.21px;width:94.50px;height:30.20px;background:#6d7e8b"></div>
<div class="b" style="left:1804.80px;top:889.21px;width:94.20px;height:30.20px;background:#6d7e8b"></div>
<div class="b" style="left:1903.20px;top:889.21px;width:94.50px;height:30.20px;background:#6d7e8b"></div>
<div class="b" style="left:2002.20px;top:889.21px;width:94.20px;height:30.20px;background:#f9da68"></div>
<div class="b" style="left:2100.60px;top:889.21px;width:94.50px;height:30.20px;background:#6d7e8b"></div>
<div class="b" style="left:2199.60px;top:889.21px;width:94.20px;height:30.20px;background:#6d7e8b"></div>
<div class="b" style="left:69.80px;top:924.08px;width:250.30px;height:30.20px;background:#00ab9b"></div>
<div class="b" style="left:324.00px;top:924.08px;width:94.50px;height:30.20px;background:#6d7e8b"></div>
<div class="b" style="left:423.00px;top:924.08px;width:94.20px;height:30.20px;background:#6d7e8b"></div>
<div class="b" style="left:521.40px;top:924.08px;width:94.50px;height:30.20px;background:#f8c416"></div>
<div class="b" style="left:620.40px;top:924.08px;width:94.20px;height:30.20px;background:#f9da68"></div>
<div class="b" style="left:718.80px;top:924.08px;width:94.50px;height:30.20px;background:#6d7e8b"></div>
<div class="b" style="left:817.80px;top:924.08px;width:94.20px;height:30.20px;background:#6d7e8b"></div>
<div class="b" style="left:916.20px;top:924.08px;width:94.50px;height:30.20px;background:#6d7e8b"></div>
<div class="b" style="left:1015.20px;top:924.08px;width:94.20px;height:30.20px;background:#6d7e8b"></div>
<div class="b" style="left:1113.60px;top:924.08px;width:94.50px;height:30.20px;background:#6d7e8b"></div>
<div class="b" style="left:1212.60px;top:924.08px;width:94.20px;height:30.20px;background:#6d7e8b"></div>
<div class="b" style="left:1311.00px;top:924.08px;width:94.50px;height:30.20px;background:#6d7e8b"></div>
<div class="b" style="left:1410.00px;top:924.08px;width:94.20px;height:30.20px;background:#6d7e8b"></div>
<div class="b" style="left:1508.40px;top:924.08px;width:94.50px;height:30.20px;background:#6d7e8b"></div>
<div class="b" style="left:1607.40px;top:924.08px;width:94.20px;height:30.20px;background:#6d7e8b"></div>
<div class="b" style="left:1705.80px;top:924.08px;width:94.50px;height:30.20px;background:#6d7e8b"></div>
<div class="b" style="left:1804.80px;top:924.08px;width:94.20px;height:30.20px;background:#6d7e8b"></div>
<div class="b" style="left:1903.20px;top:924.08px;width:94.50px;height:30.20px;background:#6d7e8b"></div>
<div class="b" style="left:2002.20px;top:924.08px;width:94.20px;height:30.20px;background:#6d7e8b"></div>
<div class="b" style="left:2100.60px;top:924.08px;width:94.50px;height:30.20px;background:#6d7e8b"></div>
<div class="b" style="left:2199.60px;top:924.08px;width:94.20px;height:30.20px;background:#6d7e8b"></div>
<div class="b" style="left:69.80px;top:958.95px;width:250.30px;height:30.20px;background:#00ab9b"></div>
<div class="b" style="left:324.00px;top:958.95px;width:94.50px;height:30.20px;background:#6d7e8b"></div>
<div class="b" style="left:423.00px;top:958.95px;width:94.20px;height:30.20px;background:#6d7e8b"></div>
<div class="b" style="left:521.40px;top:958.95px;width:94.50px;height:30.20px;background:#6d7e8b"></div>
<div class="b" style="left:620.40px;top:958.95px;width:94.20px;height:30.20px;background:#6d7e8b"></div>
<div class="b" style="left:718.80px;top:958.95px;width:94.50px;height:30.20px;background:#6d7e8b"></div>
<div class="b" style="left:817.80px;top:958.95px;width:94.20px;height:30.20px;background:#6d7e8b"></div>
<div class="b" style="left:916.20px;top:958.95px;width:94.50px;height:30.20px;background:#6d7e8b"></div>
<div class="b" style="left:1015.20px;top:958.95px;width:94.20px;height:30.20px;background:#6d7e8b"></div>
<div class="b" style="left:1113.60px;top:958.95px;width:94.50px;height:30.20px;background:#f8c416"></div>
<div class="b" style="left:1212.60px;top:958.95px;width:94.20px;height:30.20px;background:#f9da68"></div>
<div class="b" style="left:1311.00px;top:958.95px;width:94.50px;height:30.20px;background:#6d7e8b"></div>
<div class="b" style="left:1410.00px;top:958.95px;width:94.20px;height:30.20px;background:#6d7e8b"></div>
<div class="b" style="left:1508.40px;top:958.95px;width:94.50px;height:30.20px;background:#6d7e8b"></div>
<div class="b" style="left:1607.40px;top:958.95px;width:94.20px;height:30.20px;background:#6d7e8b"></div>
<div class="b" style="left:1705.80px;top:958.95px;width:94.50px;height:30.20px;background:#6d7e8b"></div>
<div class="b" style="left:1804.80px;top:958.95px;width:94.20px;height:30.20px;background:#6d7e8b"></div>
<div class="b" style="left:1903.20px;top:958.95px;width:94.50px;height:30.20px;background:#6d7e8b"></div>
<div class="b" style="left:2002.20px;top:958.95px;width:94.20px;height:30.20px;background:#6d7e8b"></div>
<div class="b" style="left:2100.60px;top:958.95px;width:94.50px;height:30.20px;background:#6d7e8b"></div>
<div class="b" style="left:2199.60px;top:958.95px;width:94.20px;height:30.20px;background:#6d7e8b"></div>
<div class="b" style="left:69.80px;top:993.82px;width:250.30px;height:30.20px;background:#00ab9b"></div>
<div class="b" style="left:324.00px;top:993.82px;width:94.50px;height:30.20px;background:#6d7e8b"></div>
<div class="b" style="left:423.00px;top:993.82px;width:94.20px;height:30.20px;background:#6d7e8b"></div>
<div class="b" style="left:521.40px;top:993.82px;width:94.50px;height:30.20px;background:#6d7e8b"></div>
<div class="b" style="left:620.40px;top:993.82px;width:94.20px;height:30.20px;background:#6d7e8b"></div>
<div class="b" style="left:718.80px;top:993.82px;width:94.50px;height:30.20px;background:#6d7e8b"></div>
<div class="b" style="left:817.80px;top:993.82px;width:94.20px;height:30.20px;background:#6d7e8b"></div>
<div class="b" style="left:916.20px;top:993.82px;width:94.50px;height:30.20px;background:#6d7e8b"></div>
<div class="b" style="left:1015.20px;top:993.82px;width:94.20px;height:30.20px;background:#6d7e8b"></div>
<div class="b" style="left:1113.60px;top:993.82px;width:94.50px;height:30.20px;background:#f8c416"></div>
<div class="b" style="left:1212.60px;top:993.82px;width:94.20px;height:30.20px;background:#f9da68"></div>
<div class="b" style="left:1311.00px;top:993.82px;width:94.50px;height:30.20px;background:#6d7e8b"></div>
<div class="b" style="left:1410.00px;top:993.82px;width:94.20px;height:30.20px;background:#6d7e8b"></div>
<div class="b" style="left:1508.40px;top:993.82px;width:94.50px;height:30.20px;background:#6d7e8b"></div>
<div class="b" style="left:1607.40px;top:993.82px;width:94.20px;height:30.20px;background:#6d7e8b"></div>
<div class="b" style="left:1705.80px;top:993.82px;width:94.50px;height:30.20px;background:#6d7e8b"></div>
<div class="b" style="left:1804.80px;top:993.82px;width:94.20px;height:30.20px;background:#6d7e8b"></div>
<div class="b" style="left:1903.20px;top:993.82px;width:94.50px;height:30.20px;background:#6d7e8b"></div>
<div class="b" style="left:2002.20px;top:993.82px;width:94.20px;height:30.20px;background:#6d7e8b"></div>
<div class="b" style="left:2100.60px;top:993.82px;width:94.50px;height:30.20px;background:#6d7e8b"></div>
<div class="b" style="left:2199.60px;top:993.82px;width:94.20px;height:30.20px;background:#6d7e8b"></div>
<div class="b" style="left:69.80px;top:1028.69px;width:250.30px;height:30.20px;background:#00ab9b"></div>
<div class="b" style="left:324.00px;top:1028.69px;width:94.50px;height:30.20px;background:#6d7e8b"></div>
<div class="b" style="left:423.00px;top:1028.69px;width:94.20px;height:30.20px;background:#6d7e8b"></div>
<div class="b" style="left:521.40px;top:1028.69px;width:94.50px;height:30.20px;background:#6d7e8b"></div>
<div class="b" style="left:620.40px;top:1028.69px;width:94.20px;height:30.20px;background:#6d7e8b"></div>
<div class="b" style="left:718.80px;top:1028.69px;width:94.50px;height:30.20px;background:#6d7e8b"></div>
<div class="b" style="left:817.80px;top:1028.69px;width:94.20px;height:30.20px;background:#6d7e8b"></div>
<div class="b" style="left:916.20px;top:1028.69px;width:94.50px;height:30.20px;background:#6d7e8b"></div>
<div class="b" style="left:1015.20px;top:1028.69px;width:94.20px;height:30.20px;background:#6d7e8b"></div>
<div class="b" style="left:1113.60px;top:1028.69px;width:94.50px;height:30.20px;background:#6d7e8b"></div>
<div class="b" style="left:1212.60px;top:1028.69px;width:94.20px;height:30.20px;background:#6d7e8b"></div>
<div class="b" style="left:1311.00px;top:1028.69px;width:94.50px;height:30.20px;background:#f8c416"></div>
<div class="b" style="left:1410.00px;top:1028.69px;width:94.20px;height:30.20px;background:#f9da68"></div>
<div class="b" style="left:1508.40px;top:1028.69px;width:94.50px;height:30.20px;background:#6d7e8b"></div>
<div class="b" style="left:1607.40px;top:1028.69px;width:94.20px;height:30.20px;background:#6d7e8b"></div>
<div class="b" style="left:1705.80px;top:1028.69px;width:94.50px;height:30.20px;background:#6d7e8b"></div>
<div class="b" style="left:1804.80px;top:1028.69px;width:94.20px;height:30.20px;background:#6d7e8b"></div>
<div class="b" style="left:1903.20px;top:1028.69px;width:94.50px;height:30.20px;background:#6d7e8b"></div>
<div class="b" style="left:2002.20px;top:1028.69px;width:94.20px;height:30.20px;background:#6d7e8b"></div>
<div class="b" style="left:2100.60px;top:1028.69px;width:94.50px;height:30.20px;background:#6d7e8b"></div>
<div class="b" style="left:2199.60px;top:1028.69px;width:94.20px;height:30.20px;background:#6d7e8b"></div>
<div class="b" style="left:69.80px;top:1063.56px;width:250.30px;height:30.20px;background:#00ab9b"></div>
<div class="b" style="left:324.00px;top:1063.56px;width:94.50px;height:30.20px;background:#6d7e8b"></div>
<div class="b" style="left:423.00px;top:1063.56px;width:94.20px;height:30.20px;background:#6d7e8b"></div>
<div class="b" style="left:521.40px;top:1063.56px;width:94.50px;height:30.20px;background:#6d7e8b"></div>
<div class="b" style="left:620.40px;top:1063.56px;width:94.20px;height:30.20px;background:#6d7e8b"></div>
<div class="b" style="left:718.80px;top:1063.56px;width:94.50px;height:30.20px;background:#6d7e8b"></div>
<div class="b" style="left:817.80px;top:1063.56px;width:94.20px;height:30.20px;background:#6d7e8b"></div>
<div class="b" style="left:916.20px;top:1063.56px;width:94.50px;height:30.20px;background:#6d7e8b"></div>
<div class="b" style="left:1015.20px;top:1063.56px;width:94.20px;height:30.20px;background:#6d7e8b"></div>
<div class="b" style="left:1113.60px;top:1063.56px;width:94.50px;height:30.20px;background:#6d7e8b"></div>
<div class="b" style="left:1212.60px;top:1063.56px;width:94.20px;height:30.20px;background:#6d7e8b"></div>
<div class="b" style="left:1311.00px;top:1063.56px;width:94.50px;height:30.20px;background:#6d7e8b"></div>
<div class="b" style="left:1410.00px;top:1063.56px;width:94.20px;height:30.20px;background:#6d7e8b"></div>
<div class="b" style="left:1508.40px;top:1063.56px;width:94.50px;height:30.20px;background:#f8c416"></div>
<div class="b" style="left:1607.40px;top:1063.56px;width:94.20px;height:30.20px;background:#f9da68"></div>
<div class="b" style="left:1705.80px;top:1063.56px;width:94.50px;height:30.20px;background:#6d7e8b"></div>
<div class="b" style="left:1804.80px;top:1063.56px;width:94.20px;height:30.20px;background:#6d7e8b"></div>
<div class="b" style="left:1903.20px;top:1063.56px;width:94.50px;height:30.20px;background:#6d7e8b"></div>
<div class="b" style="left:2002.20px;top:1063.56px;width:94.20px;height:30.20px;background:#6d7e8b"></div>
<div class="b" style="left:2100.60px;top:1063.56px;width:94.50px;height:30.20px;background:#6d7e8b"></div>
<div class="b" style="left:2199.60px;top:1063.56px;width:94.20px;height:30.20px;background:#6d7e8b"></div>
<div class="b" style="left:69.80px;top:1098.43px;width:250.30px;height:30.20px;background:#00ab9b"></div>
<div class="b" style="left:324.00px;top:1098.43px;width:94.50px;height:30.20px;background:#6d7e8b"></div>
<div class="b" style="left:423.00px;top:1098.43px;width:94.20px;height:30.20px;background:#6d7e8b"></div>
<div class="b" style="left:521.40px;top:1098.43px;width:94.50px;height:30.20px;background:#6d7e8b"></div>
<div class="b" style="left:620.40px;top:1098.43px;width:94.20px;height:30.20px;background:#6d7e8b"></div>
<div class="b" style="left:718.80px;top:1098.43px;width:94.50px;height:30.20px;background:#6d7e8b"></div>
<div class="b" style="left:817.80px;top:1098.43px;width:94.20px;height:30.20px;background:#6d7e8b"></div>
<div class="b" style="left:916.20px;top:1098.43px;width:94.50px;height:30.20px;background:#6d7e8b"></div>
<div class="b" style="left:1015.20px;top:1098.43px;width:94.20px;height:30.20px;background:#6d7e8b"></div>
<div class="b" style="left:1113.60px;top:1098.43px;width:94.50px;height:30.20px;background:#6d7e8b"></div>
<div class="b" style="left:1212.60px;top:1098.43px;width:94.20px;height:30.20px;background:#6d7e8b"></div>
<div class="b" style="left:1311.00px;top:1098.43px;width:94.50px;height:30.20px;background:#6d7e8b"></div>
<div class="b" style="left:1410.00px;top:1098.43px;width:94.20px;height:30.20px;background:#6d7e8b"></div>
<div class="b" style="left:1508.40px;top:1098.43px;width:94.50px;height:30.20px;background:#6d7e8b"></div>
<div class="b" style="left:1607.40px;top:1098.43px;width:94.20px;height:30.20px;background:#f9da68"></div>
<div class="b" style="left:1705.80px;top:1098.43px;width:94.50px;height:30.20px;background:#f8c416"></div>
<div class="b" style="left:1804.80px;top:1098.43px;width:94.20px;height:30.20px;background:#f9da68"></div>
<div class="b" style="left:1903.20px;top:1098.43px;width:94.50px;height:30.20px;background:#f8c416"></div>
<div class="b" style="left:2002.20px;top:1098.43px;width:94.20px;height:30.20px;background:#6d7e8b"></div>
<div class="b" style="left:2100.60px;top:1098.43px;width:94.50px;height:30.20px;background:#6d7e8b"></div>
<div class="b" style="left:2199.60px;top:1098.43px;width:94.20px;height:30.20px;background:#6d7e8b"></div>
<div class="b" style="left:69.80px;top:1133.30px;width:250.30px;height:30.20px;background:#00ab9b"></div>
<div class="b" style="left:324.00px;top:1133.30px;width:94.50px;height:30.20px;background:#6d7e8b"></div>
<div class="b" style="left:423.00px;top:1133.30px;width:94.20px;height:30.20px;background:#6d7e8b"></div>
<div class="b" style="left:521.40px;top:1133.30px;width:94.50px;height:30.20px;background:#6d7e8b"></div>
<div class="b" style="left:620.40px;top:1133.30px;width:94.20px;height:30.20px;background:#6d7e8b"></div>
<div class="b" style="left:718.80px;top:1133.30px;width:94.50px;height:30.20px;background:#6d7e8b"></div>
<div class="b" style="left:817.80px;top:1133.30px;width:94.20px;height:30.20px;background:#6d7e8b"></div>
<div class="b" style="left:916.20px;top:1133.30px;width:94.50px;height:30.20px;background:#6d7e8b"></div>
<div class="b" style="left:1015.20px;top:1133.30px;width:94.20px;height:30.20px;background:#6d7e8b"></div>
<div class="b" style="left:1113.60px;top:1133.30px;width:94.50px;height:30.20px;background:#6d7e8b"></div>
<div class="b" style="left:1212.60px;top:1133.30px;width:94.20px;height:30.20px;background:#6d7e8b"></div>
<div class="b" style="left:1311.00px;top:1133.30px;width:94.50px;height:30.20px;background:#6d7e8b"></div>
<div class="b" style="left:1410.00px;top:1133.30px;width:94.20px;height:30.20px;background:#6d7e8b"></div>
<div class="b" style="left:1508.40px;top:1133.30px;width:94.50px;height:30.20px;background:#6d7e8b"></div>
<div class="b" style="left:1607.40px;top:1133.30px;width:94.20px;height:30.20px;background:#6d7e8b"></div>
<div class="b" style="left:1705.80px;top:1133.30px;width:94.50px;height:30.20px;background:#6d7e8b"></div>
<div class="b" style="left:1804.80px;top:1133.30px;width:94.20px;height:30.20px;background:#6d7e8b"></div>
<div class="b" style="left:1903.20px;top:1133.30px;width:94.50px;height:30.20px;background:#f8c416"></div>
<div class="b" style="left:2002.20px;top:1133.30px;width:94.20px;height:30.20px;background:#f9da68"></div>
<div class="b" style="left:2100.60px;top:1133.30px;width:94.50px;height:30.20px;background:#6d7e8b"></div>
<div class="b" style="left:2199.60px;top:1133.30px;width:94.20px;height:30.20px;background:#6d7e8b"></div>
<div class="b" style="left:69.80px;top:1168.17px;width:250.30px;height:30.20px;background:#00ab9b"></div>
<div class="b" style="left:324.00px;top:1168.17px;width:94.50px;height:30.20px;background:#6d7e8b"></div>
<div class="b" style="left:423.00px;top:1168.17px;width:94.20px;height:30.20px;background:#6d7e8b"></div>
<div class="b" style="left:521.40px;top:1168.17px;width:94.50px;height:30.20px;background:#6d7e8b"></div>
<div class="b" style="left:620.40px;top:1168.17px;width:94.20px;height:30.20px;background:#6d7e8b"></div>
<div class="b" style="left:718.80px;top:1168.17px;width:94.50px;height:30.20px;background:#6d7e8b"></div>
<div class="b" style="left:817.80px;top:1168.17px;width:94.20px;height:30.20px;background:#6d7e8b"></div>
<div class="b" style="left:916.20px;top:1168.17px;width:94.50px;height:30.20px;background:#6d7e8b"></div>
<div class="b" style="left:1015.20px;top:1168.17px;width:94.20px;height:30.20px;background:#6d7e8b"></div>
<div class="b" style="left:1113.60px;top:1168.17px;width:94.50px;height:30.20px;background:#6d7e8b"></div>
<div class="b" style="left:1212.60px;top:1168.17px;width:94.20px;height:30.20px;background:#6d7e8b"></div>
<div class="b" style="left:1311.00px;top:1168.17px;width:94.50px;height:30.20px;background:#f8c416"></div>
<div class="b" style="left:1410.00px;top:1168.17px;width:94.20px;height:30.20px;background:#f9da68"></div>
<div class="b" style="left:1508.40px;top:1168.17px;width:94.50px;height:30.20px;background:#f8c416"></div>
<div class="b" style="left:1607.40px;top:1168.17px;width:94.20px;height:30.20px;background:#f9da68"></div>
<div class="b" style="left:1705.80px;top:1168.17px;width:94.50px;height:30.20px;background:#6d7e8b"></div>
<div class="b" style="left:1804.80px;top:1168.17px;width:94.20px;height:30.20px;background:#6d7e8b"></div>
<div class="b" style="left:1903.20px;top:1168.17px;width:94.50px;height:30.20px;background:#f8c416"></div>
<div class="b" style="left:2002.20px;top:1168.17px;width:94.20px;height:30.20px;background:#6d7e8b"></div>
<div class="b" style="left:2100.60px;top:1168.17px;width:94.50px;height:30.20px;background:#6d7e8b"></div>
<div class="b" style="left:2199.60px;top:1168.17px;width:94.20px;height:30.20px;background:#6d7e8b"></div>
<div class="b" style="left:69.80px;top:1203.04px;width:250.30px;height:30.20px;background:#00ab9b"></div>
<div class="b" style="left:324.00px;top:1203.04px;width:94.50px;height:30.20px;background:#6d7e8b"></div>
<div class="b" style="left:423.00px;top:1203.04px;width:94.20px;height:30.20px;background:#6d7e8b"></div>
<div class="b" style="left:521.40px;top:1203.04px;width:94.50px;height:30.20px;background:#6d7e8b"></div>
<div class="b" style="left:620.40px;top:1203.04px;width:94.20px;height:30.20px;background:#6d7e8b"></div>
<div class="b" style="left:718.80px;top:1203.04px;width:94.50px;height:30.20px;background:#6d7e8b"></div>
<div class="b" style="left:817.80px;top:1203.04px;width:94.20px;height:30.20px;background:#6d7e8b"></div>
<div class="b" style="left:916.20px;top:1203.04px;width:94.50px;height:30.20px;background:#6d7e8b"></div>
<div class="b" style="left:1015.20px;top:1203.04px;width:94.20px;height:30.20px;background:#6d7e8b"></div>
<div class="b" style="left:1113.60px;top:1203.04px;width:94.50px;height:30.20px;background:#6d7e8b"></div>
<div class="b" style="left:1212.60px;top:1203.04px;width:94.20px;height:30.20px;background:#6d7e8b"></div>
<div class="b" style="left:1311.00px;top:1203.04px;width:94.50px;height:30.20px;background:#f8c416"></div>
<div class="b" style="left:1410.00px;top:1203.04px;width:94.20px;height:30.20px;background:#f9da68"></div>
<div class="b" style="left:1508.40px;top:1203.04px;width:94.50px;height:30.20px;background:#f8c416"></div>
<div class="b" style="left:1607.40px;top:1203.04px;width:94.20px;height:30.20px;background:#6d7e8b"></div>
<div class="b" style="left:1705.80px;top:1203.04px;width:94.50px;height:30.20px;background:#6d7e8b"></div>
<div class="b" style="left:1804.80px;top:1203.04px;width:94.20px;height:30.20px;background:#f9da68"></div>
<div class="b" style="left:1903.20px;top:1203.04px;width:94.50px;height:30.20px;background:#f8c416"></div>
<div class="b" style="left:2002.20px;top:1203.04px;width:94.20px;height:30.20px;background:#6d7e8b"></div>
<div class="b" style="left:2100.60px;top:1203.04px;width:94.50px;height:30.20px;background:#6d7e8b"></div>
<div class="b" style="left:2199.60px;top:1203.04px;width:94.20px;height:30.20px;background:#6d7e8b"></div>
<div class="b" style="left:69.80px;top:1237.91px;width:250.30px;height:30.20px;background:#00ab9b"></div>
<div class="b" style="left:324.00px;top:1237.91px;width:94.50px;height:30.20px;background:#6d7e8b"></div>
<div class="b" style="left:423.00px;top:1237.91px;width:94.20px;height:30.20px;background:#6d7e8b"></div>
<div class="b" style="left:521.40px;top:1237.91px;width:94.50px;height:30.20px;background:#6d7e8b"></div>
<div class="b" style="left:620.40px;top:1237.91px;width:94.20px;height:30.20px;background:#6d7e8b"></div>
<div class="b" style="left:718.80px;top:1237.91px;width:94.50px;height:30.20px;background:#6d7e8b"></div>
<div class="b" style="left:817.80px;top:1237.91px;width:94.20px;height:30.20px;background:#6d7e8b"></div>
<div class="b" style="left:916.20px;top:1237.91px;width:94.50px;height:30.20px;background:#6d7e8b"></div>
<div class="b" style="left:1015.20px;top:1237.91px;width:94.20px;height:30.20px;background:#6d7e8b"></div>
<div class="b" style="left:1113.60px;top:1237.91px;width:94.50px;height:30.20px;background:#6d7e8b"></div>
<div class="b" style="left:1212.60px;top:1237.91px;width:94.20px;height:30.20px;background:#6d7e8b"></div>
<div class="b" style="left:1311.00px;top:1237.91px;width:94.50px;height:30.20px;background:#f8c416"></div>
<div class="b" style="left:1410.00px;top:1237.91px;width:94.20px;height:30.20px;background:#f9da68"></div>
<div class="b" style="left:1508.40px;top:1237.91px;width:94.50px;height:30.20px;background:#f8c416"></div>
<div class="b" style="left:1607.40px;top:1237.91px;width:94.20px;height:30.20px;background:#6d7e8b"></div>
<div class="b" style="left:1705.80px;top:1237.91px;width:94.50px;height:30.20px;background:#6d7e8b"></div>
<div class="b" style="left:1804.80px;top:1237.91px;width:94.20px;height:30.20px;background:#f9da68"></div>
<div class="b" style="left:1903.20px;top:1237.91px;width:94.50px;height:30.20px;background:#6d7e8b"></div>
<div class="b" style="left:2002.20px;top:1237.91px;width:94.20px;height:30.20px;background:#f9da68"></div>
<div class="b" style="left:2100.60px;top:1237.91px;width:94.50px;height:30.20px;background:#6d7e8b"></div>
<div class="b" style="left:2199.60px;top:1237.91px;width:94.20px;height:30.20px;background:#6d7e8b"></div>
<div class="b" style="left:69.80px;top:1272.78px;width:250.30px;height:30.20px;background:#00ab9b"></div>
<div class="b" style="left:324.00px;top:1272.78px;width:94.50px;height:30.20px;background:#6d7e8b"></div>
<div class="b" style="left:423.00px;top:1272.78px;width:94.20px;height:30.20px;background:#6d7e8b"></div>
<div class="b" style="left:521.40px;top:1272.78px;width:94.50px;height:30.20px;background:#6d7e8b"></div>
<div class="b" style="left:620.40px;top:1272.78px;width:94.20px;height:30.20px;background:#6d7e8b"></div>
<div class="b" style="left:718.80px;top:1272.78px;width:94.50px;height:30.20px;background:#6d7e8b"></div>
<div class="b" style="left:817.80px;top:1272.78px;width:94.20px;height:30.20px;background:#6d7e8b"></div>
<div class="b" style="left:916.20px;top:1272.78px;width:94.50px;height:30.20px;background:#6d7e8b"></div>
<div class="b" style="left:1015.20px;top:1272.78px;width:94.20px;height:30.20px;background:#6d7e8b"></div>
<div class="b" style="left:1113.60px;top:1272.78px;width:94.50px;height:30.20px;background:#6d7e8b"></div>
<div class="b" style="left:1212.60px;top:1272.78px;width:94.20px;height:30.20px;background:#6d7e8b"></div>
<div class="b" style="left:1311.00px;top:1272.78px;width:94.50px;height:30.20px;background:#f8c416"></div>
<div class="b" style="left:1410.00px;top:1272.78px;width:94.20px;height:30.20px;background:#f9da68"></div>
<div class="b" style="left:1508.40px;top:1272.78px;width:94.50px;height:30.20px;background:#6d7e8b"></div>
<div class="b" style="left:1607.40px;top:1272.78px;width:94.20px;height:30.20px;background:#f9da68"></div>
<div class="b" style="left:1705.80px;top:1272.78px;width:94.50px;height:30.20px;background:#f8c416"></div>
<div class="b" style="left:1804.80px;top:1272.78px;width:94.20px;height:30.20px;background:#6d7e8b"></div>
<div class="b" style="left:1903.20px;top:1272.78px;width:94.50px;height:30.20px;background:#f8c416"></div>
<div class="b" style="left:2002.20px;top:1272.78px;width:94.20px;height:30.20px;background:#f9da68"></div>
<div class="b" style="left:2100.60px;top:1272.78px;width:94.50px;height:30.20px;background:#6d7e8b"></div>
<div class="b" style="left:2199.60px;top:1272.78px;width:94.20px;height:30.20px;background:#6d7e8b"></div>
<div class="b" style="left:69.80px;top:1307.65px;width:250.30px;height:30.20px;background:#00ab9b"></div>
<div class="b" style="left:324.00px;top:1307.65px;width:94.50px;height:30.20px;background:#6d7e8b"></div>
<div class="b" style="left:423.00px;top:1307.65px;width:94.20px;height:30.20px;background:#6d7e8b"></div>
<div class="b" style="left:521.40px;top:1307.65px;width:94.50px;height:30.20px;background:#6d7e8b"></div>
<div class="b" style="left:620.40px;top:1307.65px;width:94.20px;height:30.20px;background:#6d7e8b"></div>
<div class="b" style="left:718.80px;top:1307.65px;width:94.50px;height:30.20px;background:#6d7e8b"></div>
<div class="b" style="left:817.80px;top:1307.65px;width:94.20px;height:30.20px;background:#6d7e8b"></div>
<div class="b" style="left:916.20px;top:1307.65px;width:94.50px;height:30.20px;background:#6d7e8b"></div>
<div class="b" style="left:1015.20px;top:1307.65px;width:94.20px;height:30.20px;background:#6d7e8b"></div>
<div class="b" style="left:1113.60px;top:1307.65px;width:94.50px;height:30.20px;background:#6d7e8b"></div>
<div class="b" style="left:1212.60px;top:1307.65px;width:94.20px;height:30.20px;background:#6d7e8b"></div>
<div class="b" style="left:1311.00px;top:1307.65px;width:94.50px;height:30.20px;background:#f8c416"></div>
<div class="b" style="left:1410.00px;top:1307.65px;width:94.20px;height:30.20px;background:#f9da68"></div>
<div class="b" style="left:1508.40px;top:1307.65px;width:94.50px;height:30.20px;background:#6d7e8b"></div>
<div class="b" style="left:1607.40px;top:1307.65px;width:94.20px;height:30.20px;background:#6d7e8b"></div>
<div class="b" style="left:1705.80px;top:1307.65px;width:94.50px;height:30.20px;background:#f8c416"></div>
<div class="b" style="left:1804.80px;top:1307.65px;width:94.20px;height:30.20px;background:#f9da68"></div>
<div class="b" style="left:1903.20px;top:1307.65px;width:94.50px;height:30.20px;background:#6d7e8b"></div>
<div class="b" style="left:2002.20px;top:1307.65px;width:94.20px;height:30.20px;background:#6d7e8b"></div>
<div class="b" style="left:2100.60px;top:1307.65px;width:94.50px;height:30.20px;background:#6d7e8b"></div>
<div class="b" style="left:2199.60px;top:1307.65px;width:94.20px;height:30.20px;background:#6d7e8b"></div>
<div class="b" style="left:69.80px;top:1342.52px;width:250.30px;height:30.20px;background:#00ab9b"></div>
<div class="b" style="left:324.00px;top:1342.52px;width:94.50px;height:30.20px;background:#6d7e8b"></div>
<div class="b" style="left:423.00px;top:1342.52px;width:94.20px;height:30.20px;background:#6d7e8b"></div>
<div class="b" style="left:521.40px;top:1342.52px;width:94.50px;height:30.20px;background:#6d7e8b"></div>
<div class="b" style="left:620.40px;top:1342.52px;width:94.20px;height:30.20px;background:#6d7e8b"></div>
<div class="b" style="left:718.80px;top:1342.52px;width:94.50px;height:30.20px;background:#6d7e8b"></div>
<div class="b" style="left:817.80px;top:1342.52px;width:94.20px;height:30.20px;background:#6d7e8b"></div>
<div class="b" style="left:916.20px;top:1342.52px;width:94.50px;height:30.20px;background:#6d7e8b"></div>
<div class="b" style="left:1015.20px;top:1342.52px;width:94.20px;height:30.20px;background:#6d7e8b"></div>
<div class="b" style="left:1113.60px;top:1342.52px;width:94.50px;height:30.20px;background:#6d7e8b"></div>
<div class="b" style="left:1212.60px;top:1342.52px;width:94.20px;height:30.20px;background:#6d7e8b"></div>
<div class="b" style="left:1311.00px;top:1342.52px;width:94.50px;height:30.20px;background:#6d7e8b"></div>
<div class="b" style="left:1410.00px;top:1342.52px;width:94.20px;height:30.20px;background:#6d7e8b"></div>
<div class="b" style="left:1508.40px;top:1342.52px;width:94.50px;height:30.20px;background:#6d7e8b"></div>
<div class="b" style="left:1607.40px;top:1342.52px;width:94.20px;height:30.20px;background:#f9da68"></div>
<div class="b" style="left:1705.80px;top:1342.52px;width:94.50px;height:30.20px;background:#f8c416"></div>
<div class="b" style="left:1804.80px;top:1342.52px;width:94.20px;height:30.20px;background:#6d7e8b"></div>
<div class="b" style="left:1903.20px;top:1342.52px;width:94.50px;height:30.20px;background:#f8c416"></div>
<div class="b" style="left:2002.20px;top:1342.52px;width:94.20px;height:30.20px;background:#f9da68"></div>
<div class="b" style="left:2100.60px;top:1342.52px;width:94.50px;height:30.20px;background:#6d7e8b"></div>
<div class="b" style="left:2199.60px;top:1342.52px;width:94.20px;height:30.20px;background:#6d7e8b"></div>
<div class="b" style="left:69.80px;top:1377.39px;width:250.30px;height:30.20px;background:#00ab9b"></div>
<div class="b" style="left:324.00px;top:1377.39px;width:94.50px;height:30.20px;background:#6d7e8b"></div>
<div class="b" style="left:423.00px;top:1377.39px;width:94.20px;height:30.20px;background:#6d7e8b"></div>
<div class="b" style="left:521.40px;top:1377.39px;width:94.50px;height:30.20px;background:#6d7e8b"></div>
<div class="b" style="left:620.40px;top:1377.39px;width:94.20px;height:30.20px;background:#6d7e8b"></div>
<div class="b" style="left:718.80px;top:1377.39px;width:94.50px;height:30.20px;background:#6d7e8b"></div>
<div class="b" style="left:817.80px;top:1377.39px;width:94.20px;height:30.20px;background:#6d7e8b"></div>
<div class="b" style="left:916.20px;top:1377.39px;width:94.50px;height:30.20px;background:#6d7e8b"></div>
<div class="b" style="left:1015.20px;top:1377.39px;width:94.20px;height:30.20px;background:#6d7e8b"></div>
<div class="b" style="left:1113.60px;top:1377.39px;width:94.50px;height:30.20px;background:#6d7e8b"></div>
<div class="b" style="left:1212.60px;top:1377.39px;width:94.20px;height:30.20px;background:#6d7e8b"></div>
<div class="b" style="left:1311.00px;top:1377.39px;width:94.50px;height:30.20px;background:#6d7e8b"></div>
<div class="b" style="left:1410.00px;top:1377.39px;width:94.20px;height:30.20px;background:#6d7e8b"></div>
<div class="b" style="left:1508.40px;top:1377.39px;width:94.50px;height:30.20px;background:#f8c416"></div>
<div class="b" style="left:1607.40px;top:1377.39px;width:94.20px;height:30.20px;background:#6d7e8b"></div>
<div class="b" style="left:1705.80px;top:1377.39px;width:94.50px;height:30.20px;background:#f8c416"></div>
<div class="b" style="left:1804.80px;top:1377.39px;width:94.20px;height:30.20px;background:#6d7e8b"></div>
<div class="b" style="left:1903.20px;top:1377.39px;width:94.50px;height:30.20px;background:#6d7e8b"></div>
<div class="b" style="left:2002.20px;top:1377.39px;width:94.20px;height:30.20px;background:#f9da68"></div>
<div class="b" style="left:2100.60px;top:1377.39px;width:94.50px;height:30.20px;background:#6d7e8b"></div>
<div class="b" style="left:2199.60px;top:1377.39px;width:94.20px;height:30.20px;background:#6d7e8b"></div>
<div class="b" style="left:69.80px;top:1412.26px;width:250.30px;height:30.20px;background:#00ab9b"></div>
<div class="b" style="left:324.00px;top:1412.26px;width:94.50px;height:30.20px;background:#6d7e8b"></div>
<div class="b" style="left:423.00px;top:1412.26px;width:94.20px;height:30.20px;background:#6d7e8b"></div>
<div class="b" style="left:521.40px;top:1412.26px;width:94.50px;height:30.20px;background:#6d7e8b"></div>
<div class="b" style="left:620.40px;top:1412.26px;width:94.20px;height:30.20px;background:#6d7e8b"></div>
<div class="b" style="left:718.80px;top:1412.26px;width:94.50px;height:30.20px;background:#6d7e8b"></div>
<div class="b" style="left:817.80px;top:1412.26px;width:94.20px;height:30.20px;background:#6d7e8b"></div>
<div class="b" style="left:916.20px;top:1412.26px;width:94.50px;height:30.20px;background:#6d7e8b"></div>
<div class="b" style="left:1015.20px;top:1412.26px;width:94.20px;height:30.20px;background:#6d7e8b"></div>
<div class="b" style="left:1113.60px;top:1412.26px;width:94.50px;height:30.20px;background:#6d7e8b"></div>
<div class="b" style="left:1212.60px;top:1412.26px;width:94.20px;height:30.20px;background:#6d7e8b"></div>
<div class="b" style="left:1311.00px;top:1412.26px;width:94.50px;height:30.20px;background:#6d7e8b"></div>
<div class="b" style="left:1410.00px;top:1412.26px;width:94.20px;height:30.20px;background:#6d7e8b"></div>
<div class="b" style="left:1508.40px;top:1412.26px;width:94.50px;height:30.20px;background:#6d7e8b"></div>
<div class="b" style="left:1607.40px;top:1412.26px;width:94.20px;height:30.20px;background:#6d7e8b"></div>
<div class="b" style="left:1705.80px;top:1412.26px;width:94.50px;height:30.20px;background:#6d7e8b"></div>
<div class="b" style="left:1804.80px;top:1412.26px;width:94.20px;height:30.20px;background:#f9da68"></div>
<div class="b" style="left:1903.20px;top:1412.26px;width:94.50px;height:30.20px;background:#f8c416"></div>
<div class="b" style="left:2002.20px;top:1412.26px;width:94.20px;height:30.20px;background:#6d7e8b"></div>
<div class="b" style="left:2100.60px;top:1412.26px;width:94.50px;height:30.20px;background:#6d7e8b"></div>
<div class="b" style="left:2199.60px;top:1412.26px;width:94.20px;height:30.20px;background:#6d7e8b"></div>
<div class="b" style="left:69.80px;top:1447.13px;width:250.30px;height:30.20px;background:#00ab9b"></div>
<div class="b" style="left:324.00px;top:1447.13px;width:94.50px;height:30.20px;background:#6d7e8b"></div>
<div class="b" style="left:423.00px;top:1447.13px;width:94.20px;height:30.20px;background:#6d7e8b"></div>
<div class="b" style="left:521.40px;top:1447.13px;width:94.50px;height:30.20px;background:#6d7e8b"></div>
<div class="b" style="left:620.40px;top:1447.13px;width:94.20px;height:30.20px;background:#6d7e8b"></div>
<div class="b" style="left:718.80px;top:1447.13px;width:94.50px;height:30.20px;background:#6d7e8b"></div>
<div class="b" style="left:817.80px;top:1447.13px;width:94.20px;height:30.20px;background:#6d7e8b"></div>
<div class="b" style="left:916.20px;top:1447.13px;width:94.50px;height:30.20px;background:#6d7e8b"></div>
<div class="b" style="left:1015.20px;top:1447.13px;width:94.20px;height:30.20px;background:#6d7e8b"></div>
<div class="b" style="left:1113.60px;top:1447.13px;width:94.50px;height:30.20px;background:#6d7e8b"></div>
<div class="b" style="left:1212.60px;top:1447.13px;width:94.20px;height:30.20px;background:#6d7e8b"></div>
<div class="b" style="left:1311.00px;top:1447.13px;width:94.50px;height:30.20px;background:#6d7e8b"></div>
<div class="b" style="left:1410.00px;top:1447.13px;width:94.20px;height:30.20px;background:#6d7e8b"></div>
<div class="b" style="left:1508.40px;top:1447.13px;width:94.50px;height:30.20px;background:#6d7e8b"></div>
<div class="b" style="left:1607.40px;top:1447.13px;width:94.20px;height:30.20px;background:#6d7e8b"></div>
<div class="b" style="left:1705.80px;top:1447.13px;width:94.50px;height:30.20px;background:#6d7e8b"></div>
<div class="b" style="left:1804.80px;top:1447.13px;width:94.20px;height:30.20px;background:#6d7e8b"></div>
<div class="b" style="left:1903.20px;top:1447.13px;width:94.50px;height:30.20px;background:#f8c416"></div>
<div class="b" style="left:2002.20px;top:1447.13px;width:94.20px;height:30.20px;background:#f9da68"></div>
<div class="b" style="left:2100.60px;top:1447.13px;width:94.50px;height:30.20px;background:#6d7e8b"></div>
<div class="b" style="left:2199.60px;top:1447.13px;width:94.20px;height:30.20px;background:#6d7e8b"></div>
<div class="b" style="left:69.80px;top:1482.00px;width:250.30px;height:30.20px;background:#00ab9b"></div>
<div class="b" style="left:324.00px;top:1482.00px;width:94.50px;height:30.20px;background:#6d7e8b"></div>
<div class="b" style="left:423.00px;top:1482.00px;width:94.20px;height:30.20px;background:#6d7e8b"></div>
<div class="b" style="left:521.40px;top:1482.00px;width:94.50px;height:30.20px;background:#6d7e8b"></div>
<div class="b" style="left:620.40px;top:1482.00px;width:94.20px;height:30.20px;background:#6d7e8b"></div>
<div class="b" style="left:718.80px;top:1482.00px;width:94.50px;height:30.20px;background:#6d7e8b"></div>
<div class="b" style="left:817.80px;top:1482.00px;width:94.20px;height:30.20px;background:#6d7e8b"></div>
<div class="b" style="left:916.20px;top:1482.00px;width:94.50px;height:30.20px;background:#6d7e8b"></div>
<div class="b" style="left:1015.20px;top:1482.00px;width:94.20px;height:30.20px;background:#6d7e8b"></div>
<div class="b" style="left:1113.60px;top:1482.00px;width:94.50px;height:30.20px;background:#6d7e8b"></div>
<div class="b" style="left:1212.60px;top:1482.00px;width:94.20px;height:30.20px;background:#6d7e8b"></div>
<div class="b" style="left:1311.00px;top:1482.00px;width:94.50px;height:30.20px;background:#6d7e8b"></div>
<div class="b" style="left:1410.00px;top:1482.00px;width:94.20px;height:30.20px;background:#6d7e8b"></div>
<div class="b" style="left:1508.40px;top:1482.00px;width:94.50px;height:30.20px;background:#6d7e8b"></div>
<div class="b" style="left:1607.40px;top:1482.00px;width:94.20px;height:30.20px;background:#6d7e8b"></div>
<div class="b" style="left:1705.80px;top:1482.00px;width:94.50px;height:30.20px;background:#6d7e8b"></div>
<div class="b" style="left:1804.80px;top:1482.00px;width:94.20px;height:30.20px;background:#6d7e8b"></div>
<div class="b" style="left:1903.20px;top:1482.00px;width:94.50px;height:30.20px;background:#6d7e8b"></div>
<div class="b" style="left:2002.20px;top:1482.00px;width:94.20px;height:30.20px;background:#6d7e8b"></div>
<div class="b" style="left:2100.60px;top:1482.00px;width:94.50px;height:30.20px;background:#6d7e8b"></div>
<div class="b" style="left:2199.60px;top:1482.00px;width:94.20px;height:30.20px;background:#6d7e8b"></div>
<div class="b" style="left:69.80px;top:1516.87px;width:250.30px;height:30.20px;background:#00ab9b"></div>
<div class="b" style="left:324.00px;top:1516.87px;width:94.50px;height:30.20px;background:#6d7e8b"></div>
<div class="b" style="left:423.00px;top:1516.87px;width:94.20px;height:30.20px;background:#6d7e8b"></div>
<div class="b" style="left:521.40px;top:1516.87px;width:94.50px;height:30.20px;background:#6d7e8b"></div>
<div class="b" style="left:620.40px;top:1516.87px;width:94.20px;height:30.20px;background:#6d7e8b"></div>
<div class="b" style="left:718.80px;top:1516.87px;width:94.50px;height:30.20px;background:#6d7e8b"></div>
<div class="b" style="left:817.80px;top:1516.87px;width:94.20px;height:30.20px;background:#6d7e8b"></div>
<div class="b" style="left:916.20px;top:1516.87px;width:94.50px;height:30.20px;background:#6d7e8b"></div>
<div class="b" style="left:1015.20px;top:1516.87px;width:94.20px;height:30.20px;background:#6d7e8b"></div>
<div class="b" style="left:1113.60px;top:1516.87px;width:94.50px;height:30.20px;background:#6d7e8b"></div>
<div class="b" style="left:1212.60px;top:1516.87px;width:94.20px;height:30.20px;background:#6d7e8b"></div>
<div class="b" style="left:1311.00px;top:1516.87px;width:94.50px;height:30.20px;background:#6d7e8b"></div>
<div class="b" style="left:1410.00px;top:1516.87px;width:94.20px;height:30.20px;background:#6d7e8b"></div>
<div class="b" style="left:1508.40px;top:1516.87px;width:94.50px;height:30.20px;background:#6d7e8b"></div>
<div class="b" style="left:1607.40px;top:1516.87px;width:94.20px;height:30.20px;background:#6d7e8b"></div>
<div class="b" style="left:1705.80px;top:1516.87px;width:94.50px;height:30.20px;background:#6d7e8b"></div>
<div class="b" style="left:1804.80px;top:1516.87px;width:94.20px;height:30.20px;background:#6d7e8b"></div>
<div class="b" style="left:1903.20px;top:1516.87px;width:94.50px;height:30.20px;background:#6d7e8b"></div>
<div class="b" style="left:2002.20px;top:1516.87px;width:94.20px;height:30.20px;background:#6d7e8b"></div>
<div class="b" style="left:2100.60px;top:1516.87px;width:94.50px;height:30.20px;background:#f8c416"></div>
<div class="b" style="left:2199.60px;top:1516.87px;width:94.20px;height:30.20px;background:#f9da68"></div>
<div class="b" style="left:69.80px;top:1551.74px;width:250.30px;height:30.20px;background:#00ab9b"></div>
<div class="b" style="left:324.00px;top:1551.74px;width:94.50px;height:30.20px;background:#f8c416"></div>
<div class="b" style="left:423.00px;top:1551.74px;width:94.20px;height:30.20px;background:#f9da68"></div>
<div class="b" style="left:521.40px;top:1551.74px;width:94.50px;height:30.20px;background:#6d7e8b"></div>
<div class="b" style="left:620.40px;top:1551.74px;width:94.20px;height:30.20px;background:#6d7e8b"></div>
<div class="b" style="left:718.80px;top:1551.74px;width:94.50px;height:30.20px;background:#6d7e8b"></div>
<div class="b" style="left:817.80px;top:1551.74px;width:94.20px;height:30.20px;background:#6d7e8b"></div>
<div class="b" style="left:916.20px;top:1551.74px;width:94.50px;height:30.20px;background:#6d7e8b"></div>
<div class="b" style="left:1015.20px;top:1551.74px;width:94.20px;height:30.20px;background:#6d7e8b"></div>
<div class="b" style="left:1113.60px;top:1551.74px;width:94.50px;height:30.20px;background:#6d7e8b"></div>
<div class="b" style="left:1212.60px;top:1551.74px;width:94.20px;height:30.20px;background:#6d7e8b"></div>
<div class="b" style="left:1311.00px;top:1551.74px;width:94.50px;height:30.20px;background:#6d7e8b"></div>
<div class="b" style="left:1410.00px;top:1551.74px;width:94.20px;height:30.20px;background:#6d7e8b"></div>
<div class="b" style="left:1508.40px;top:1551.74px;width:94.50px;height:30.20px;background:#6d7e8b"></div>
<div class="b" style="left:1607.40px;top:1551.74px;width:94.20px;height:30.20px;background:#6d7e8b"></div>
<div class="b" style="left:1705.80px;top:1551.74px;width:94.50px;height:30.20px;background:#6d7e8b"></div>
<div class="b" style="left:1804.80px;top:1551.74px;width:94.20px;height:30.20px;background:#6d7e8b"></div>
<div class="b" style="left:1903.20px;top:1551.74px;width:94.50px;height:30.20px;background:#6d7e8b"></div>
<div class="b" style="left:2002.20px;top:1551.74px;width:94.20px;height:30.20px;background:#6d7e8b"></div>
<div class="b" style="left:2100.60px;top:1551.74px;width:94.50px;height:30.20px;background:#f8c416"></div>
<div class="b" style="left:2199.60px;top:1551.74px;width:94.20px;height:30.20px;background:#f9da68"></div>
<div class="b" style="left:69.80px;top:1586.61px;width:250.30px;height:30.20px;background:#00ab9b"></div>
<div class="b" style="left:324.00px;top:1586.61px;width:94.50px;height:30.20px;background:#f8c416"></div>
<div class="b" style="left:423.00px;top:1586.61px;width:94.20px;height:30.20px;background:#f9da68"></div>
<div class="b" style="left:521.40px;top:1586.61px;width:94.50px;height:30.20px;background:#6d7e8b"></div>
<div class="b" style="left:620.40px;top:1586.61px;width:94.20px;height:30.20px;background:#6d7e8b"></div>
<div class="b" style="left:718.80px;top:1586.61px;width:94.50px;height:30.20px;background:#6d7e8b"></div>
<div class="b" style="left:817.80px;top:1586.61px;width:94.20px;height:30.20px;background:#6d7e8b"></div>
<div class="b" style="left:916.20px;top:1586.61px;width:94.50px;height:30.20px;background:#6d7e8b"></div>
<div class="b" style="left:1015.20px;top:1586.61px;width:94.20px;height:30.20px;background:#6d7e8b"></div>
<div class="b" style="left:1113.60px;top:1586.61px;width:94.50px;height:30.20px;background:#6d7e8b"></div>
<div class="b" style="left:1212.60px;top:1586.61px;width:94.20px;height:30.20px;background:#6d7e8b"></div>
<div class="b" style="left:1311.00px;top:1586.61px;width:94.50px;height:30.20px;background:#6d7e8b"></div>
<div class="b" style="left:1410.00px;top:1586.61px;width:94.20px;height:30.20px;background:#6d7e8b"></div>
<div class="b" style="left:1508.40px;top:1586.61px;width:94.50px;height:30.20px;background:#6d7e8b"></div>
<div class="b" style="left:1607.40px;top:1586.61px;width:94.20px;height:30.20px;background:#6d7e8b"></div>
<div class="b" style="left:1705.80px;top:1586.61px;width:94.50px;height:30.20px;background:#6d7e8b"></div>
<div class="b" style="left:1804.80px;top:1586.61px;width:94.20px;height:30.20px;background:#6d7e8b"></div>
<div class="b" style="left:1903.20px;top:1586.61px;width:94.50px;height:30.20px;background:#6d7e8b"></div>
<div class="b" style="left:2002.20px;top:1586.61px;width:94.20px;height:30.20px;background:#6d7e8b"></div>
<div class="b" style="left:2100.60px;top:1586.61px;width:94.50px;height:30.20px;background:#6d7e8b"></div>
<div class="b" style="left:2199.60px;top:1586.61px;width:94.20px;height:30.20px;background:#6d7e8b"></div>
<div class="b" style="left:69.80px;top:1621.48px;width:250.30px;height:30.20px;background:#00ab9b"></div>
<div class="b" style="left:324.00px;top:1621.48px;width:94.50px;height:30.20px;background:#6d7e8b"></div>
<div class="b" style="left:423.00px;top:1621.48px;width:94.20px;height:30.20px;background:#6d7e8b"></div>
<div class="b" style="left:521.40px;top:1621.48px;width:94.50px;height:30.20px;background:#6d7e8b"></div>
<div class="b" style="left:620.40px;top:1621.48px;width:94.20px;height:30.20px;background:#6d7e8b"></div>
<div class="b" style="left:718.80px;top:1621.48px;width:94.50px;height:30.20px;background:#6d7e8b"></div>
<div class="b" style="left:817.80px;top:1621.48px;width:94.20px;height:30.20px;background:#6d7e8b"></div>
<div class="b" style="left:916.20px;top:1621.48px;width:94.50px;height:30.20px;background:#6d7e8b"></div>
<div class="b" style="left:1015.20px;top:1621.48px;width:94.20px;height:30.20px;background:#6d7e8b"></div>
<div class="b" style="left:1113.60px;top:1621.48px;width:94.50px;height:30.20px;background:#6d7e8b"></div>
<div class="b" style="left:1212.60px;top:1621.48px;width:94.20px;height:30.20px;background:#6d7e8b"></div>
<div class="b" style="left:1311.00px;top:1621.48px;width:94.50px;height:30.20px;background:#6d7e8b"></div>
<div class="b" style="left:1410.00px;top:1621.48px;width:94.20px;height:30.20px;background:#6d7e8b"></div>
<div class="b" style="left:1508.40px;top:1621.48px;width:94.50px;height:30.20px;background:#f8c416"></div>
<div class="b" style="left:1607.40px;top:1621.48px;width:94.20px;height:30.20px;background:#f9da68"></div>
<div class="b" style="left:1705.80px;top:1621.48px;width:94.50px;height:30.20px;background:#6d7e8b"></div>
<div class="b" style="left:1804.80px;top:1621.48px;width:94.20px;height:30.20px;background:#6d7e8b"></div>
<div class="b" style="left:1903.20px;top:1621.48px;width:94.50px;height:30.20px;background:#6d7e8b"></div>
<div class="b" style="left:2002.20px;top:1621.48px;width:94.20px;height:30.20px;background:#6d7e8b"></div>
<div class="b" style="left:2100.60px;top:1621.48px;width:94.50px;height:30.20px;background:#6d7e8b"></div>
<div class="b" style="left:2199.60px;top:1621.48px;width:94.20px;height:30.20px;background:#6d7e8b"></div>
<div class="b" style="left:69.80px;top:1656.35px;width:250.30px;height:30.20px;background:#00ab9b"></div>
<div class="b" style="left:324.00px;top:1656.35px;width:94.50px;height:30.20px;background:#6d7e8b"></div>
<div class="b" style="left:423.00px;top:1656.35px;width:94.20px;height:30.20px;background:#6d7e8b"></div>
<div class="b" style="left:521.40px;top:1656.35px;width:94.50px;height:30.20px;background:#6d7e8b"></div>
<div class="b" style="left:620.40px;top:1656.35px;width:94.20px;height:30.20px;background:#6d7e8b"></div>
<div class="b" style="left:718.80px;top:1656.35px;width:94.50px;height:30.20px;background:#6d7e8b"></div>
<div class="b" style="left:817.80px;top:1656.35px;width:94.20px;height:30.20px;background:#6d7e8b"></div>
<div class="b" style="left:916.20px;top:1656.35px;width:94.50px;height:30.20px;background:#f8c416"></div>
<div class="b" style="left:1015.20px;top:1656.35px;width:94.20px;height:30.20px;background:#f9da68"></div>
<div class="b" style="left:1113.60px;top:1656.35px;width:94.50px;height:30.20px;background:#6d7e8b"></div>
<div class="b" style="left:1212.60px;top:1656.35px;width:94.20px;height:30.20px;background:#6d7e8b"></div>
<div class="b" style="left:1311.00px;top:1656.35px;width:94.50px;height:30.20px;background:#6d7e8b"></div>
<div class="b" style="left:1410.00px;top:1656.35px;width:94.20px;height:30.20px;background:#6d7e8b"></div>
<div class="b" style="left:1508.40px;top:1656.35px;width:94.50px;height:30.20px;background:#6d7e8b"></div>
<div class="b" style="left:1607.40px;top:1656.35px;width:94.20px;height:30.20px;background:#6d7e8b"></div>
<div class="b" style="left:1705.80px;top:1656.35px;width:94.50px;height:30.20px;background:#6d7e8b"></div>
<div class="b" style="left:1804.80px;top:1656.35px;width:94.20px;height:30.20px;background:#6d7e8b"></div>
<div class="b" style="left:1903.20px;top:1656.35px;width:94.50px;height:30.20px;background:#6d7e8b"></div>
<div class="b" style="left:2002.20px;top:1656.35px;width:94.20px;height:30.20px;background:#6d7e8b"></div>
<div class="b" style="left:2100.60px;top:1656.35px;width:94.50px;height:30.20px;background:#6d7e8b"></div>
<div class="b" style="left:2199.60px;top:1656.35px;width:94.20px;height:30.20px;background:#6d7e8b"></div>
<div class="b" style="left:69.80px;top:1691.22px;width:250.30px;height:30.20px;background:#00ab9b"></div>
<div class="b" style="left:324.00px;top:1691.22px;width:94.50px;height:30.20px;background:#6d7e8b"></div>
<div class="b" style="left:423.00px;top:1691.22px;width:94.20px;height:30.20px;background:#6d7e8b"></div>
<div class="b" style="left:521.40px;top:1691.22px;width:94.50px;height:30.20px;background:#6d7e8b"></div>
<div class="b" style="left:620.40px;top:1691.22px;width:94.20px;height:30.20px;background:#6d7e8b"></div>
<div class="b" style="left:718.80px;top:1691.22px;width:94.50px;height:30.20px;background:#6d7e8b"></div>
<div class="b" style="left:817.80px;top:1691.22px;width:94.20px;height:30.20px;background:#6d7e8b"></div>
<div class="b" style="left:916.20px;top:1691.22px;width:94.50px;height:30.20px;background:#f8c416"></div>
<div class="b" style="left:1015.20px;top:1691.22px;width:94.20px;height:30.20px;background:#f9da68"></div>
<div class="b" style="left:1113.60px;top:1691.22px;width:94.50px;height:30.20px;background:#6d7e8b"></div>
<div class="b" style="left:1212.60px;top:1691.22px;width:94.20px;height:30.20px;background:#6d7e8b"></div>
<div class="b" style="left:1311.00px;top:1691.22px;width:94.50px;height:30.20px;background:#6d7e8b"></div>
<div class="b" style="left:1410.00px;top:1691.22px;width:94.20px;height:30.20px;background:#6d7e8b"></div>
<div class="b" style="left:1508.40px;top:1691.22px;width:94.50px;height:30.20px;background:#6d7e8b"></div>
<div class="b" style="left:1607.40px;top:1691.22px;width:94.20px;height:30.20px;background:#6d7e8b"></div>
<div class="b" style="left:1705.80px;top:1691.22px;width:94.50px;height:30.20px;background:#6d7e8b"></div>
<div class="b" style="left:1804.80px;top:1691.22px;width:94.20px;height:30.20px;background:#6d7e8b"></div>
<div class="b" style="left:1903.20px;top:1691.22px;width:94.50px;height:30.20px;background:#6d7e8b"></div>
<div class="b" style="left:2002.20px;top:1691.22px;width:94.20px;height:30.20px;background:#6d7e8b"></div>
<div class="b" style="left:2100.60px;top:1691.22px;width:94.50px;height:30.20px;background:#6d7e8b"></div>
<div class="b" style="left:2199.60px;top:1691.22px;width:94.20px;height:30.20px;background:#6d7e8b"></div>
<div class="b" style="left:2298.00px;top:612.00px;width:192.60px;height:1109.80px;background:#6d7e8b"></div>
<div class="x" style="left:364.45px;top:352.81px;font-size:17px;transform:scaleX(1.0530);">November 29</div>
<div class="x" style="left:342.70px;top:406.32px;font-size:16.4px;transform:scaleX(1.0175);">Australian Athletics</div>
<div class="x" style="left:337.16px;top:424.32px;font-size:16.4px;transform:scaleX(1.0371);">Marathon Race Walk</div>
<div class="x" style="left:359.10px;top:442.42px;font-size:16.4px;transform:scaleX(1.0071);">Championships</div>
<div class="x" style="left:382.80px;top:496.61px;font-size:17px;transform:scaleX(1.0161);">Canberra</div>
<div class="x" style="left:378.20px;top:532.04px;font-size:15.9px;transform:scaleX(1.1104);">Australian</div>
<div class="x" style="left:355.50px;top:551.14px;font-size:15.9px;transform:scaleX(1.0926);">Championships</div>
<div class="x" style="left:363.43px;top:586.64px;font-size:15.9px;transform:scaleX(1.1667);">M</div>
<div class="x" style="left:461.90px;top:586.64px;font-size:15.9px;transform:scaleX(1.1533);">W</div>
<div class="x" style="left:563.67px;top:352.81px;font-size:17px;transform:scaleX(1.0279);">December 13</div>
<div class="x" style="left:561.60px;top:413.26px;font-size:18.6px;transform:scaleX(0.9832);">ZÁTOPEK:10</div>
<div class="x" style="left:578.12px;top:434.26px;font-size:18.6px;transform:scaleX(1.0811);">10,000m</div>
<div class="x" style="left:572.75px;top:496.61px;font-size:17px;transform:scaleX(1.0545);">Melbourne</div>
<div class="x" style="left:575.60px;top:532.04px;font-size:15.9px;transform:scaleX(1.1104);">Australian</div>
<div class="x" style="left:552.90px;top:551.14px;font-size:15.9px;transform:scaleX(1.0926);">Championships</div>
<div class="x" style="left:560.83px;top:586.64px;font-size:15.9px;transform:scaleX(1.1667);">M</div>
<div class="x" style="left:659.30px;top:586.64px;font-size:15.9px;transform:scaleX(1.1533);">W</div>
<div class="x" style="left:758.33px;top:352.81px;font-size:17px;transform:scaleX(1.0700);">December 20</div>
<div class="x" style="left:730.00px;top:423.76px;font-size:18.6px;transform:scaleX(1.0497);">Albie Thomas Mile</div>
<div class="x" style="left:767.14px;top:496.61px;font-size:17px;transform:scaleX(1.0594);">Bankstown</div>
<div class="x" style="left:773.00px;top:532.04px;font-size:15.9px;transform:scaleX(1.1104);">Australian</div>
<div class="x" style="left:750.30px;top:551.14px;font-size:15.9px;transform:scaleX(1.0926);">Championships</div>
<div class="x" style="left:758.23px;top:586.64px;font-size:15.9px;transform:scaleX(1.1667);">M</div>
<div class="x" style="left:856.70px;top:586.64px;font-size:15.9px;transform:scaleX(1.1533);">W</div>
<div class="x" style="left:953.70px;top:352.81px;font-size:17px;transform:scaleX(1.0311);">January 22-24</div>
<div class="x" style="left:942.00px;top:413.26px;font-size:18.6px;transform:scaleX(1.0784);">Summer Down</div>
<div class="x" style="left:982.81px;top:434.26px;font-size:18.6px;transform:scaleX(1.0879);">Under</div>
<div class="x" style="left:973.41px;top:496.61px;font-size:17px;transform:scaleX(1.0479);">Canberra</div>
<div class="x" style="left:970.40px;top:532.04px;font-size:15.9px;transform:scaleX(1.1104);">Australian</div>
<div class="x" style="left:947.70px;top:551.14px;font-size:15.9px;transform:scaleX(1.0926);">Championships</div>
<div class="x" style="left:955.63px;top:586.64px;font-size:15.9px;transform:scaleX(1.1667);">M</div>
<div class="x" style="left:1054.10px;top:586.64px;font-size:15.9px;transform:scaleX(1.1533);">W</div>
<div class="x" style="left:1152.00px;top:352.81px;font-size:17px;transform:scaleX(1.0270);">January 25-26</div>
<div class="x" style="left:1118.20px;top:413.26px;font-size:18.6px;transform:scaleX(1.0509);">Supernova 10,000m</div>
<div class="x" style="left:1186.20px;top:434.26px;font-size:18.6px;transform:scaleX(1.0999);">Walk</div>
<div class="x" style="left:1170.81px;top:496.61px;font-size:17px;transform:scaleX(1.0479);">Canberra</div>
<div class="x" style="left:1167.80px;top:532.04px;font-size:15.9px;transform:scaleX(1.1104);">Australian</div>
<div class="x" style="left:1145.10px;top:551.14px;font-size:15.9px;transform:scaleX(1.0926);">Championships</div>
<div class="x" style="left:1153.03px;top:586.64px;font-size:15.9px;transform:scaleX(1.1667);">M</div>
<div class="x" style="left:1251.50px;top:586.64px;font-size:15.9px;transform:scaleX(1.1533);">W</div>
<div class="x" style="left:1361.55px;top:352.81px;font-size:17px;transform:scaleX(1.0471);">February 7</div>
<div class="x" style="left:1329.20px;top:406.32px;font-size:16.4px;transform:scaleX(1.0168);">Australian Athletics</div>
<div class="x" style="left:1362.00px;top:424.32px;font-size:16.4px;transform:scaleX(0.9883);">Short Track</div>
<div class="x" style="left:1346.10px;top:442.42px;font-size:16.4px;transform:scaleX(1.0071);">Championships</div>
<div class="x" style="left:1362.28px;top:496.61px;font-size:17px;transform:scaleX(1.0479);">Melbourne</div>
<div class="x" style="left:1365.20px;top:532.04px;font-size:15.9px;transform:scaleX(1.1104);">Australian</div>
<div class="x" style="left:1342.50px;top:551.14px;font-size:15.9px;transform:scaleX(1.0926);">Championships</div>
<div class="x" style="left:1350.43px;top:586.64px;font-size:15.9px;transform:scaleX(1.1667);">M</div>
<div class="x" style="left:1448.90px;top:586.64px;font-size:15.9px;transform:scaleX(1.1533);">W</div>
<div class="x" style="left:1555.49px;top:352.81px;font-size:17px;transform:scaleX(1.0122);">February 14</div>
<div class="x" style="left:1549.93px;top:413.26px;font-size:18.6px;transform:scaleX(1.0699);">Perth Track</div>
<div class="x" style="left:1573.00px;top:434.26px;font-size:18.6px;transform:scaleX(0.9817);">Classic</div>
<div class="x" style="left:1580.92px;top:496.61px;font-size:17px;transform:scaleX(1.0815);">Perth</div>
<div class="x" style="left:1579.80px;top:532.04px;font-size:15.9px;transform:scaleX(1.0813);">WACT</div>
<div class="x" style="left:1551.39px;top:551.14px;font-size:15.9px;transform:scaleX(1.1106);">Bronze Meet</div>
<div class="x" style="left:1547.83px;top:586.64px;font-size:15.9px;transform:scaleX(1.1667);">M</div>
<div class="x" style="left:1646.30px;top:586.64px;font-size:15.9px;transform:scaleX(1.1533);">W</div>
<div class="x" style="left:1751.15px;top:352.81px;font-size:17px;transform:scaleX(1.0503);">February 28</div>
<div class="x" style="left:1740.23px;top:413.26px;font-size:18.6px;transform:scaleX(1.0721);">Hobart Track</div>
<div class="x" style="left:1770.40px;top:434.26px;font-size:18.6px;transform:scaleX(0.9817);">Classic</div>
<div class="x" style="left:1773.00px;top:496.61px;font-size:17px;transform:scaleX(1.0479);">Hobart</div>
<div class="x" style="left:1777.20px;top:532.04px;font-size:15.9px;transform:scaleX(1.0813);">WACT</div>
<div class="x" style="left:1748.79px;top:551.14px;font-size:15.9px;transform:scaleX(1.1106);">Bronze Meet</div>
<div class="x" style="left:1745.23px;top:586.64px;font-size:15.9px;transform:scaleX(1.1667);">M</div>
<div class="x" style="left:1843.70px;top:586.64px;font-size:15.9px;transform:scaleX(1.1533);">W</div>
<div class="x" style="left:1951.43px;top:352.81px;font-size:17px;transform:scaleX(0.9743);">March 13-14</div>
<div class="x" style="left:1958.60px;top:413.26px;font-size:18.6px;transform:scaleX(1.0602);">Adelaide</div>
<div class="x" style="left:1945.81px;top:434.26px;font-size:18.6px;transform:scaleX(1.0940);">Invitational</div>
<div class="x" style="left:1962.80px;top:496.61px;font-size:17px;transform:scaleX(1.0412);">Adelaide</div>
<div class="x" style="left:1974.60px;top:532.04px;font-size:15.9px;transform:scaleX(1.0813);">WACT</div>
<div class="x" style="left:1946.19px;top:551.14px;font-size:15.9px;transform:scaleX(1.1106);">Bronze Meet</div>
<div class="x" style="left:1942.63px;top:586.64px;font-size:15.9px;transform:scaleX(1.1667);">M</div>
<div class="x" style="left:2041.10px;top:586.64px;font-size:15.9px;transform:scaleX(1.1533);">W</div>
<div class="x" style="left:2160.00px;top:352.81px;font-size:17px;transform:scaleX(0.9993);">March 15</div>
<div class="x" style="left:2105.20px;top:407.62px;font-size:15.1px;transform:scaleX(1.0471);">Australian Athletics Half</div>
<div class="x" style="left:2117.23px;top:425.12px;font-size:15.1px;transform:scaleX(1.0725);">Marathon Race Walk</div>
<div class="x" style="left:2138.30px;top:442.62px;font-size:15.1px;transform:scaleX(1.0397);">Championships</div>
<div class="x" style="left:2160.50px;top:496.61px;font-size:17px;transform:scaleX(1.0412);">Adelaide</div>
<div class="x" style="left:2154.80px;top:532.04px;font-size:15.9px;transform:scaleX(1.1104);">Australian</div>
<div class="x" style="left:2132.10px;top:551.14px;font-size:15.9px;transform:scaleX(1.0926);">Championships</div>
<div class="x" style="left:2140.03px;top:586.64px;font-size:15.9px;transform:scaleX(1.1667);">M</div>
<div class="x" style="left:2238.50px;top:586.64px;font-size:15.9px;transform:scaleX(1.1533);">W</div>
<div class="x" style="left:2342.15px;top:352.81px;font-size:17px;transform:scaleX(1.0535);">March 27-28</div>
<div class="x" style="left:2307.81px;top:423.76px;font-size:18.6px;transform:scaleX(1.0899);">Maurie Plant Meet</div>
<div class="x" style="left:2349.28px;top:496.61px;font-size:17px;transform:scaleX(1.0479);">Melbourne</div>
<div class="x" style="left:2369.40px;top:532.04px;font-size:15.9px;transform:scaleX(1.0813);">WACT</div>
<div class="x" style="left:2351.60px;top:551.14px;font-size:15.9px;transform:scaleX(1.0966);">Gold Meet</div>
<div class="x" style="left:2337.43px;top:586.64px;font-size:15.9px;transform:scaleX(1.1667);">M</div>
<div class="x" style="left:2435.90px;top:586.64px;font-size:15.9px;transform:scaleX(1.1533);">W</div>
<div class="x" style="left:273.42px;top:621.69px;font-size:16.9px;transform:scaleX(1.0639);">60m</div>
<div class="x" style="left:1345.09px;top:620.92px;font-size:16.4px;transform:scaleX(1.0600);color:#0f2231;">NC</div>
<div class="x" style="left:1443.94px;top:620.92px;font-size:16.4px;transform:scaleX(1.0600);color:#0f2231;">NC</div>
<div class="x" style="left:262.72px;top:656.69px;font-size:16.9px;transform:scaleX(1.0757);">100m</div>
<div class="x" style="left:1549.82px;top:655.92px;font-size:16.4px;transform:scaleX(1.0600);color:#0f2231;">X</div>
<div class="x" style="left:1648.67px;top:655.92px;font-size:16.4px;transform:scaleX(1.0600);color:#0f2231;">X</div>
<div class="x" style="left:1747.22px;top:655.92px;font-size:16.4px;transform:scaleX(1.0600);color:#0f2231;">X</div>
<div class="x" style="left:1846.07px;top:655.92px;font-size:16.4px;transform:scaleX(1.0600);color:#0f2231;">X</div>
<div class="x" style="left:1944.62px;top:655.92px;font-size:16.4px;transform:scaleX(1.0600);color:#0f2231;">X</div>
<div class="x" style="left:2043.47px;top:655.92px;font-size:16.4px;transform:scaleX(1.0600);color:#0f2231;">X</div>
<div class="x" style="left:263.42px;top:691.69px;font-size:16.9px;transform:scaleX(1.0639);">200m</div>
<div class="x" style="left:1549.82px;top:690.92px;font-size:16.4px;transform:scaleX(1.0600);color:#0f2231;">X</div>
<div class="x" style="left:1648.67px;top:690.92px;font-size:16.4px;transform:scaleX(1.0600);color:#0f2231;">X</div>
<div class="x" style="left:1747.22px;top:690.92px;font-size:16.4px;transform:scaleX(1.0600);color:#0f2231;">X</div>
<div class="x" style="left:1846.07px;top:690.92px;font-size:16.4px;transform:scaleX(1.0600);color:#0f2231;">X</div>
<div class="x" style="left:263.42px;top:726.69px;font-size:16.9px;transform:scaleX(1.0639);">400m</div>
<div class="x" style="left:1549.82px;top:725.92px;font-size:16.4px;transform:scaleX(1.0600);color:#0f2231;">X</div>
<div class="x" style="left:1648.67px;top:725.92px;font-size:16.4px;transform:scaleX(1.0600);color:#0f2231;">X</div>
<div class="x" style="left:1944.62px;top:725.92px;font-size:16.4px;transform:scaleX(1.0600);color:#0f2231;">X</div>
<div class="x" style="left:2043.47px;top:725.92px;font-size:16.4px;transform:scaleX(1.0600);color:#0f2231;">X</div>
<div class="x" style="left:263.42px;top:760.89px;font-size:16.9px;transform:scaleX(1.0639);">800m</div>
<div class="x" style="left:1549.82px;top:760.12px;font-size:16.4px;transform:scaleX(1.0600);color:#0f2231;">X</div>
<div class="x" style="left:1747.22px;top:760.12px;font-size:16.4px;transform:scaleX(1.0600);color:#0f2231;">X</div>
<div class="x" style="left:1846.07px;top:760.12px;font-size:16.4px;transform:scaleX(1.0600);color:#0f2231;">X</div>
<div class="x" style="left:1944.62px;top:760.12px;font-size:16.4px;transform:scaleX(1.0600);color:#0f2231;">X</div>
<div class="x" style="left:2043.47px;top:760.12px;font-size:16.4px;transform:scaleX(1.0600);color:#0f2231;">X</div>
<div class="x" style="left:253.43px;top:794.29px;font-size:16.9px;transform:scaleX(1.0639);">1500m</div>
<div class="x" style="left:1648.67px;top:793.52px;font-size:16.4px;transform:scaleX(1.0600);color:#0f2231;">X</div>
<div class="x" style="left:1747.22px;top:793.52px;font-size:16.4px;transform:scaleX(1.0600);color:#0f2231;">X</div>
<div class="x" style="left:1944.62px;top:793.52px;font-size:16.4px;transform:scaleX(1.0600);color:#0f2231;">X</div>
<div class="x" style="left:2043.47px;top:793.52px;font-size:16.4px;transform:scaleX(1.0600);color:#0f2231;">X</div>
<div class="x" style="left:273.77px;top:829.16px;font-size:16.9px;transform:scaleX(1.0639);">Mile</div>
<div class="x" style="left:752.89px;top:828.39px;font-size:16.4px;transform:scaleX(1.0600);color:#0f2231;">NC</div>
<div class="x" style="left:851.74px;top:828.39px;font-size:16.4px;transform:scaleX(1.0600);color:#0f2231;">NC</div>
<div class="x" style="left:253.43px;top:864.03px;font-size:16.9px;transform:scaleX(1.0639);">3000m</div>
<div class="x" style="left:537.19px;top:863.26px;font-size:16.4px;transform:scaleX(1.0600);color:#0f2231;">U20-NC</div>
<div class="x" style="left:636.04px;top:863.26px;font-size:16.4px;transform:scaleX(1.0600);color:#0f2231;">U20-NC</div>
<div class="x" style="left:1739.89px;top:863.26px;font-size:16.4px;transform:scaleX(1.0600);color:#0f2231;">NC</div>
<div class="x" style="left:1838.74px;top:863.26px;font-size:16.4px;transform:scaleX(1.0600);color:#0f2231;">NC</div>
<div class="x" style="left:253.43px;top:898.90px;font-size:16.9px;transform:scaleX(1.0639);">5000m</div>
<div class="x" style="left:1549.82px;top:898.13px;font-size:16.4px;transform:scaleX(1.0600);color:#0f2231;">X</div>
<div class="x" style="left:2043.47px;top:898.13px;font-size:16.4px;transform:scaleX(1.0600);color:#0f2231;">X</div>
<div class="x" style="left:243.44px;top:933.77px;font-size:16.9px;transform:scaleX(1.0639);">10000m</div>
<div class="x" style="left:555.49px;top:933.00px;font-size:16.4px;transform:scaleX(1.0600);color:#0f2231;">NC</div>
<div class="x" style="left:654.34px;top:933.00px;font-size:16.4px;transform:scaleX(1.0600);color:#0f2231;">NC</div>
<div class="x" style="left:205.44px;top:968.64px;font-size:16.9px;transform:scaleX(1.0639);">5000m Walk</div>
<div class="x" style="left:1129.39px;top:967.87px;font-size:16.4px;transform:scaleX(1.0600);color:#0f2231;">U20-NC</div>
<div class="x" style="left:1228.24px;top:967.87px;font-size:16.4px;transform:scaleX(1.0600);color:#0f2231;">U20-NC</div>
<div class="x" style="left:195.44px;top:1003.51px;font-size:16.9px;transform:scaleX(1.0639);">10000m Walk</div>
<div class="x" style="left:1147.69px;top:1002.74px;font-size:16.4px;transform:scaleX(1.0600);color:#0f2231;">NC</div>
<div class="x" style="left:1246.54px;top:1002.74px;font-size:16.4px;transform:scaleX(1.0600);color:#0f2231;">NC</div>
<div class="x" style="left:200.86px;top:1038.38px;font-size:16.9px;transform:scaleX(1.0639);">60m Hurdles</div>
<div class="x" style="left:1345.09px;top:1037.61px;font-size:16.4px;transform:scaleX(1.0600);color:#0f2231;">NC</div>
<div class="x" style="left:1443.94px;top:1037.61px;font-size:16.4px;transform:scaleX(1.0600);color:#0f2231;">NC</div>
<div class="x" style="left:184.92px;top:1073.25px;font-size:16.9px;transform:scaleX(1.0639);">Sprint Hurdles</div>
<div class="x" style="left:1549.82px;top:1072.48px;font-size:16.4px;transform:scaleX(1.0600);color:#0f2231;">X</div>
<div class="x" style="left:1648.67px;top:1072.48px;font-size:16.4px;transform:scaleX(1.0600);color:#0f2231;">X</div>
<div class="x" style="left:190.86px;top:1108.12px;font-size:16.9px;transform:scaleX(1.0639);">400m Hurdles</div>
<div class="x" style="left:1648.67px;top:1107.35px;font-size:16.4px;transform:scaleX(1.0600);color:#0f2231;">X</div>
<div class="x" style="left:1747.22px;top:1107.35px;font-size:16.4px;transform:scaleX(1.0600);color:#0f2231;">X</div>
<div class="x" style="left:1846.07px;top:1107.35px;font-size:16.4px;transform:scaleX(1.0600);color:#0f2231;">X</div>
<div class="x" style="left:1944.62px;top:1107.35px;font-size:16.4px;transform:scaleX(1.0600);color:#0f2231;">X</div>
<div class="x" style="left:132.90px;top:1142.99px;font-size:16.9px;transform:scaleX(1.0639);">3000m Steeplechase</div>
<div class="x" style="left:1944.62px;top:1142.22px;font-size:16.4px;transform:scaleX(1.0600);color:#0f2231;">X</div>
<div class="x" style="left:2035.07px;top:1142.22px;font-size:16.4px;transform:scaleX(1.0600);color:#0f2231;">FRI</div>
<div class="x" style="left:222.02px;top:1177.86px;font-size:16.9px;transform:scaleX(1.0639);">Pole Vault</div>
<div class="x" style="left:1345.09px;top:1177.09px;font-size:16.4px;transform:scaleX(1.0600);color:#0f2231;">NC</div>
<div class="x" style="left:1443.94px;top:1177.09px;font-size:16.4px;transform:scaleX(1.0600);color:#0f2231;">NC</div>
<div class="x" style="left:1549.82px;top:1177.09px;font-size:16.4px;transform:scaleX(1.0600);color:#0f2231;">X</div>
<div class="x" style="left:1648.67px;top:1177.09px;font-size:16.4px;transform:scaleX(1.0600);color:#0f2231;">X</div>
<div class="x" style="left:1944.62px;top:1177.09px;font-size:16.4px;transform:scaleX(1.0600);color:#0f2231;">X</div>
<div class="x" style="left:215.80px;top:1212.73px;font-size:16.9px;transform:scaleX(1.0639);">High Jump</div>
<div class="x" style="left:1345.09px;top:1211.96px;font-size:16.4px;transform:scaleX(1.0600);color:#0f2231;">NC</div>
<div class="x" style="left:1443.94px;top:1211.96px;font-size:16.4px;transform:scaleX(1.0600);color:#0f2231;">NC</div>
<div class="x" style="left:1549.82px;top:1211.96px;font-size:16.4px;transform:scaleX(1.0600);color:#0f2231;">X</div>
<div class="x" style="left:1846.07px;top:1211.96px;font-size:16.4px;transform:scaleX(1.0600);color:#0f2231;">X</div>
<div class="x" style="left:1944.62px;top:1211.96px;font-size:16.4px;transform:scaleX(1.0600);color:#0f2231;">X</div>
<div class="x" style="left:211.81px;top:1247.60px;font-size:16.9px;transform:scaleX(1.0639);">Long Jump</div>
<div class="x" style="left:1345.09px;top:1246.83px;font-size:16.4px;transform:scaleX(1.0600);color:#0f2231;">NC</div>
<div class="x" style="left:1443.94px;top:1246.83px;font-size:16.4px;transform:scaleX(1.0600);color:#0f2231;">NC</div>
<div class="x" style="left:1549.82px;top:1246.83px;font-size:16.4px;transform:scaleX(1.0600);color:#0f2231;">X</div>
<div class="x" style="left:1846.07px;top:1246.83px;font-size:16.4px;transform:scaleX(1.0600);color:#0f2231;">X</div>
<div class="x" style="left:2043.47px;top:1246.83px;font-size:16.4px;transform:scaleX(1.0600);color:#0f2231;">X</div>
<div class="x" style="left:207.79px;top:1282.47px;font-size:16.9px;transform:scaleX(1.0639);">Triple Jump</div>
<div class="x" style="left:1345.09px;top:1281.70px;font-size:16.4px;transform:scaleX(1.0600);color:#0f2231;">NC</div>
<div class="x" style="left:1443.94px;top:1281.70px;font-size:16.4px;transform:scaleX(1.0600);color:#0f2231;">NC</div>
<div class="x" style="left:1648.67px;top:1281.70px;font-size:16.4px;transform:scaleX(1.0600);color:#0f2231;">X</div>
<div class="x" style="left:1747.22px;top:1281.70px;font-size:16.4px;transform:scaleX(1.0600);color:#0f2231;">X</div>
<div class="x" style="left:1944.62px;top:1281.70px;font-size:16.4px;transform:scaleX(1.0600);color:#0f2231;">X</div>
<div class="x" style="left:2035.07px;top:1281.70px;font-size:16.4px;transform:scaleX(1.0600);color:#0f2231;">FRI</div>
<div class="x" style="left:234.04px;top:1317.34px;font-size:16.9px;transform:scaleX(1.0639);">Shot Put</div>
<div class="x" style="left:1345.09px;top:1316.57px;font-size:16.4px;transform:scaleX(1.0600);color:#0f2231;">NC</div>
<div class="x" style="left:1443.94px;top:1316.57px;font-size:16.4px;transform:scaleX(1.0600);color:#0f2231;">NC</div>
<div class="x" style="left:1747.22px;top:1316.57px;font-size:16.4px;transform:scaleX(1.0600);color:#0f2231;">X</div>
<div class="x" style="left:1846.07px;top:1316.57px;font-size:16.4px;transform:scaleX(1.0600);color:#0f2231;">X</div>
<div class="x" style="left:189.56px;top:1352.21px;font-size:16.9px;transform:scaleX(1.0639);">Discus Throw</div>
<div class="x" style="left:1648.67px;top:1351.44px;font-size:16.4px;transform:scaleX(1.0600);color:#0f2231;">X</div>
<div class="x" style="left:1747.22px;top:1351.44px;font-size:16.4px;transform:scaleX(1.0600);color:#0f2231;">X</div>
<div class="x" style="left:1944.62px;top:1351.44px;font-size:16.4px;transform:scaleX(1.0600);color:#0f2231;">X</div>
<div class="x" style="left:2043.47px;top:1351.44px;font-size:16.4px;transform:scaleX(1.0600);color:#0f2231;">X</div>
<div class="x" style="left:187.55px;top:1387.08px;font-size:16.9px;transform:scaleX(1.0639);">Javelin Throw</div>
<div class="x" style="left:1549.82px;top:1386.31px;font-size:16.4px;transform:scaleX(1.0600);color:#0f2231;">X</div>
<div class="x" style="left:1747.22px;top:1386.31px;font-size:16.4px;transform:scaleX(1.0600);color:#0f2231;">X</div>
<div class="x" style="left:2035.07px;top:1386.31px;font-size:16.4px;transform:scaleX(1.0600);color:#0f2231;">FRI</div>
<div class="x" style="left:176.58px;top:1421.95px;font-size:16.9px;transform:scaleX(1.0639);">Hammer Throw</div>
<div class="x" style="left:1846.07px;top:1421.18px;font-size:16.4px;transform:scaleX(1.0600);color:#0f2231;">X</div>
<div class="x" style="left:1936.22px;top:1421.18px;font-size:16.4px;transform:scaleX(1.0600);color:#0f2231;">FRI</div>
<div class="x" style="left:243.44px;top:1456.82px;font-size:16.9px;transform:scaleX(1.0639);">4x100m</div>
<div class="x" style="left:1936.22px;top:1456.05px;font-size:16.4px;transform:scaleX(1.0600);color:#0f2231;">FRI</div>
<div class="x" style="left:2035.07px;top:1456.05px;font-size:16.4px;transform:scaleX(1.0600);color:#0f2231;">FRI</div>
<div class="x" style="left:243.44px;top:1491.69px;font-size:16.9px;transform:scaleX(1.0639);">4x400m</div>
<div class="x" style="left:167.48px;top:1526.56px;font-size:16.9px;transform:scaleX(1.0639);">10km Race Walk</div>
<div class="x" style="left:2131.98px;top:1525.79px;font-size:16.4px;transform:scaleX(1.0600);color:#0f2231;">U20</div>
<div class="x" style="left:2230.83px;top:1525.79px;font-size:16.4px;transform:scaleX(1.0600);color:#0f2231;">U20</div>
<div class="x" style="left:93.84px;top:1561.43px;font-size:16.9px;transform:scaleX(1.0639);">Half Marathon Race Walk</div>
<div class="x" style="left:365.42px;top:1560.66px;font-size:16.4px;transform:scaleX(1.0600);color:#0f2231;">X</div>
<div class="x" style="left:464.27px;top:1560.66px;font-size:16.4px;transform:scaleX(1.0600);color:#0f2231;">X</div>
<div class="x" style="left:2134.69px;top:1560.66px;font-size:16.4px;transform:scaleX(1.0600);color:#0f2231;">NC</div>
<div class="x" style="left:2233.54px;top:1560.66px;font-size:16.4px;transform:scaleX(1.0600);color:#0f2231;">NC</div>
<div class="x" style="left:132.58px;top:1596.30px;font-size:16.9px;transform:scaleX(1.0639);">Marathon Race Walk</div>
<div class="x" style="left:358.09px;top:1595.53px;font-size:16.4px;transform:scaleX(1.0600);color:#0f2231;">NC</div>
<div class="x" style="left:456.94px;top:1595.53px;font-size:16.4px;transform:scaleX(1.0600);color:#0f2231;">NC</div>
<div class="x" style="left:174.84px;top:1631.17px;font-size:16.9px;transform:scaleX(1.0595);">100m Ambulant</div>
<div class="x" style="left:1549.82px;top:1630.40px;font-size:16.4px;transform:scaleX(1.0600);color:#0f2231;">X</div>
<div class="x" style="left:1648.67px;top:1630.40px;font-size:16.4px;transform:scaleX(1.0600);color:#0f2231;">X</div>
<div class="x" style="left:152.44px;top:1666.04px;font-size:16.9px;transform:scaleX(1.0557);">1500m Wheelchair</div>
<div class="x" style="left:950.29px;top:1665.27px;font-size:16.4px;transform:scaleX(1.0600);color:#0f2231;">NC</div>
<div class="x" style="left:1049.14px;top:1665.27px;font-size:16.4px;transform:scaleX(1.0600);color:#0f2231;">NC</div>
<div class="x" style="left:148.90px;top:1700.91px;font-size:16.9px;transform:scaleX(1.0797);">5000m Wheelchair</div>
<div class="x" style="left:950.29px;top:1700.14px;font-size:16.4px;transform:scaleX(1.0600);color:#0f2231;">NC</div>
<div class="x" style="left:1049.14px;top:1700.14px;font-size:16.4px;transform:scaleX(1.0600);color:#0f2231;">NC</div>
<div class="x" style="left:2318.97px;top:1131.98px;font-size:37px;transform:scaleX(1.0154);">EVENTS</div>
<div class="x" style="left:2354.60px;top:1175.68px;font-size:37px;transform:scaleX(1.0435);">TBD</div>


<div class="foot" style="top:1792.6px;transform:scaleX(0.986)">U20 = UNDER 20 | NC = NATIONAL CHAMPIONSHIPS | FRI = EVENTS WILL TAKE PLACE ON FRIDAY</div>
<div class="foot" style="top:1814.8px;transform:scaleX(0.9927)">ADDITIONAL ADELAIDE INVITATIONAL EVENTS MAY MOVE TO FRIDAY NIGHT</div>
<div class="foot" style="top:1837px;transform:scaleX(0.9861)">PARA ATHLETES WILL BE INCLUDED IN ABLE-BODIED FIELDS IN FIELD EVENTS AND DISTANCE EVENTS, IN CONSULTATION WITH THE AA PARA HP TEAM</div>
<div class="foot" style="top:1859.2px;font-style:italic;transform:scaleX(0.97)">"PLEASE NOTE - THE WORLD ATHLETICS GLOBAL CALENDAR IS THE ONLY CORRECT SOURCE OF INFORMATION FOR WORLD ATHLETICS SANCTIONED EVENTS"</div>

<!-- Chemist Warehouse Summer Series -->
<svg style="position:absolute;left:1480px;top:1790px" width="310" height="95" viewBox="0 0 2199 674">
 <path d="M75,205 L455,75 L2095,75 L2095,390 C2095,500 1950,625 1800,625 L75,625 Z" fill="#1a2a32" stroke="#a9b3b7" stroke-width="9"/>
 <path d="M148,258 L460,152 L568,185 L568,152 L722,152 L722,240 L780,268 L780,552 L148,552 Z" fill="#e30b17" stroke="#f5d20a" stroke-width="14"/>
 <text x="190" y="415" font-family="Liberation Sans" font-weight="700" font-size="150" fill="#fff" stroke="#fff" stroke-width="8" textLength="545" lengthAdjust="spacingAndGlyphs">CHEMIST</text>
 <text x="190" y="495" font-family="Liberation Sans" font-weight="700" font-size="70" fill="#fff" textLength="530" lengthAdjust="spacing">WAREHOUSE</text>
 <circle cx="768" cy="210" r="10" fill="none" stroke="#f5d20a" stroke-width="5"/>
 <text x="845" y="335" font-family="Liberation Sans" font-weight="700" font-size="275" fill="#f2f2f2" stroke="#f2f2f2" stroke-width="6" textLength="1180" lengthAdjust="spacingAndGlyphs">SUMMER</text>
 <text x="845" y="555" font-family="Liberation Sans" font-weight="700" font-size="268" fill="#f2f2f2" stroke="#f2f2f2" stroke-width="6" textLength="855" lengthAdjust="spacingAndGlyphs">SERIES</text>
 <path d="M1725,368 L2020,368 C2010,450 1920,555 1735,560 Z" fill="#f5c518"/>
 <path d="M1725,380 L1880,380 C1860,420 1800,450 1725,455 Z" fill="#f7dc80"/>
 <g fill="none" stroke="#1a2a32" stroke-width="12">
  <path d="M1725,470 C1820,465 1900,420 1930,368"/>
  <path d="M1725,505 C1850,500 1950,440 1970,368"/>
  <path d="M1725,540 C1880,535 1990,460 2005,368"/>
 </g>
</svg>

<!-- PUMA -->
<svg style="position:absolute;left:1790px;top:1790px" width="170" height="95" viewBox="0 0 2199 1229">
 <g fill="#fff" fill-rule="evenodd">
  <path d="M210,620 L460,620 Q490,620 490,650 L490,915 Q490,945 460,945 L330,945 L330,1050 L210,1050 Z M330,670 L360,670 Q375,670 375,690 L375,875 Q375,890 360,890 L330,890 Z"/>
  <path d="M530,620 L645,620 L645,980 Q665,1000 685,980 L685,620 L800,620 L800,1020 Q800,1050 770,1050 L560,1050 Q530,1050 530,1020 Z"/>
  <path d="M840,650 Q840,620 870,620 L1245,620 Q1275,620 1275,650 L1275,1050 L1160,1050 L1160,690 Q1140,670 1120,690 L1120,1050 L1000,1050 L1000,690 Q980,670 960,690 L960,1050 L840,1050 Z"/>
  <path d="M1310,650 Q1310,620 1340,620 L1560,620 Q1590,620 1590,650 L1590,1050 L1475,1050 L1475,945 L1430,945 L1430,1050 L1310,1050 Z M1430,690 Q1452,670 1475,690 L1475,890 L1430,890 Z"/>
  <path d="M1095,255 C1110,200 1150,175 1170,165 L1185,185 L1210,165 L1225,195 C1300,205 1400,260 1520,360 C1600,420 1650,440 1700,440 C1760,420 1800,340 1840,260 C1880,200 1920,160 1960,160 C1990,170 1985,220 1950,240 C1880,270 1850,320 1820,380 C1790,440 1770,470 1745,485 C1770,560 1780,650 1790,730 C1840,760 1850,800 1850,840 C1840,880 1800,870 1790,840 C1780,800 1780,770 1770,760 C1720,720 1680,660 1650,590 C1620,530 1560,505 1500,500 C1400,490 1360,440 1320,400 C1300,420 1260,430 1200,400 L1140,390 C1120,420 1090,420 1080,390 C1070,360 1100,335 1140,340 L1195,330 L1195,310 C1150,305 1100,290 1095,255 Z"/>
 </g>
</svg>

<!-- Continental Tour -->
<svg style="position:absolute;left:1965px;top:1795px" width="300" height="85" viewBox="0 0 2199 623">
 <defs>
  <linearGradient id="ring" x1="0" y1="0" x2="1" y2="0">
   <stop offset="0" stop-color="#f0803a"/><stop offset="0.5" stop-color="#ec5a2a"/><stop offset="1" stop-color="#e2332b"/>
  </linearGradient>
 </defs>
 <g fill="none" stroke="url(#ring)" stroke-width="30">
  <ellipse cx="545" cy="140" rx="400" ry="70"/>
  <ellipse cx="545" cy="220" rx="450" ry="85"/>
  <ellipse cx="545" cy="300" rx="470" ry="75"/>
  <ellipse cx="545" cy="395" rx="465" ry="45"/>
  <ellipse cx="545" cy="445" rx="450" ry="40"/>
  <ellipse cx="555" cy="505" rx="385" ry="55"/>
 </g>
 <text x="1290" y="155" font-family="Liberation Sans" font-weight="700" font-size="68" fill="#fff" textLength="660" lengthAdjust="spacingAndGlyphs">WORLD ATHLETICS</text>
 <text x="1092" y="330" font-family="Liberation Sans" font-weight="400" font-size="208" fill="#fff" stroke="#fff" stroke-width="7" textLength="1055" lengthAdjust="spacingAndGlyphs">Continental</text>
 <text x="1188" y="525" font-family="Liberation Sans" font-weight="400" font-size="208" fill="#fff" stroke="#fff" stroke-width="7" textLength="382" lengthAdjust="spacingAndGlyphs">Tour</text>
 <text x="1588" y="525" font-family="Liberation Sans" font-weight="400" font-size="208" fill="#ef7a3a" stroke="#ef7a3a" stroke-width="4" textLength="477" lengthAdjust="spacingAndGlyphs">2026</text>
</svg>

<!-- Oceania -->
<svg style="position:absolute;left:2280px;top:1798px" width="140" height="74" viewBox="0 0 2199 1162">
 <defs><clipPath id="fan"><path d="M120,230 L380,105 L470,125 L690,230 C1000,150 1300,95 1600,92 C1750,100 1900,150 2000,195 C1600,210 1300,300 1050,480 C900,600 760,780 630,1090 C560,850 450,620 330,440 Z"/></clipPath></defs>
 <g clip-path="url(#fan)">
  <rect width="2199" height="1162" fill="#0e98ae"/>
  <g fill="none" stroke="#22363f" stroke-width="30">
   <path d="M240,320 C320,250 400,190 470,140"/>
   <path d="M330,430 C420,350 520,280 620,225"/>
   <path d="M440,590 C560,450 680,320 760,270 C1000,180 1300,130 1700,120"/>
   <path d="M550,760 C650,600 780,440 900,360 C1100,260 1400,180 1900,160"/>
   <path d="M165,215 C300,330 500,500 640,680"/>
   <path d="M235,170 C380,250 600,380 750,560"/>
   <path d="M295,135 C450,200 680,300 850,470"/>
   <path d="M350,115 C500,160 760,250 960,420"/>
   <path d="M420,105 C560,140 800,210 1060,380"/>
  </g>
 </g>
</svg>

<svg style="position:absolute;left:2330px;top:1830px" width="180" height="50" viewBox="0 0 180 50">
 <g fill="none" stroke="#f6f6f6" stroke-width="4.3" stroke-linejoin="round" stroke-linecap="round">
  <rect x="13.65" y="10.05" width="18.3" height="15.6" rx="3"/>
  <path d="M55.65,10.05 L41.65,10.05 Q38.65,10.05 38.65,13.05 L38.65,22.65 Q38.65,25.65 41.65,25.65 L55.65,25.65"/>
  <path d="M78.95,10.05 L64.15,10.05 Q61.15,10.05 61.15,13.05 L61.15,22.65 Q61.15,25.65 64.15,25.65 L78.95,25.65 M61.15,17.85 L77.5,17.85"/>
  <path d="M84.1,25.65 L94.5,10.2 L104.9,25.65 M88,21 L101,21"/>
  <path d="M111.65,25.65 L111.65,10.05 L130.65,25.65 L130.65,10.05"/>
  <path d="M136.7,10.05 L136.7,25.65"/>
  <path d="M143.1,25.65 L153.5,10.2 L163.9,25.65 M147,21 L160,21"/>
 </g>
 <g fill="none" stroke="#f6f6f6" stroke-width="2.0" stroke-linejoin="round" stroke-linecap="round">
  <path d="M13.1,40.95 L18.45,34.85 L23.8,40.95 M15.6,38.4 L21.3,38.4"/>
  <path d="M31.5,34.85 L39.7,34.85 M35.6,34.85 L35.6,40.95"/>
  <path d="M49.55,34.85 L49.55,40.95 M59.35,34.85 L59.35,40.95 M49.55,37.9 L59.35,37.9"/>
  <path d="M71.65,34.85 L71.65,40.95 L79.75,40.95"/>
  <path d="M97,34.85 L88.45,34.85 L88.45,40.95 L97,40.95 M88.45,37.9 L96.5,37.9"/>
  <path d="M106.85,34.85 L115,34.85 M110.9,34.85 L110.9,40.95"/>
  <path d="M126,34.85 L126,40.95"/>
  <path d="M145.3,34.85 L139.5,34.85 Q137.55,34.85 137.55,36.8 L137.55,39 Q137.55,40.95 139.5,40.95 L145.3,40.95"/>
  <path d="M165,34.85 L157.5,34.85 Q155.95,34.85 155.95,36.4 Q155.95,37.9 157.5,37.9 L163.4,37.9 Q165,37.9 165,39.45 Q165,40.95 163.4,40.95 L155.95,40.95"/>
 </g>
</svg>

</body></html>
